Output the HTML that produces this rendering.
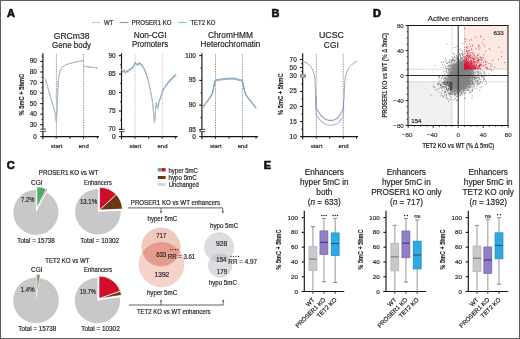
<!DOCTYPE html>
<html><head><meta charset="utf-8"><style>
html,body{margin:0;padding:0;background:#fff;width:520px;height:339px;overflow:hidden}
svg{display:block;will-change:transform;filter:blur(0.3px)}
text{font-family:"Liberation Sans", sans-serif}
</style></head><body>
<svg width="520" height="339" viewBox="0 0 520 339" font-family='"Liberation Sans", sans-serif'>
<rect x="0.5" y="0.5" width="519" height="338" fill="#fff" stroke="#5c5c5c" stroke-width="1"/>
<text x="7.00" y="16.60" font-size="11" text-anchor="start" fill="#111" font-weight="bold" stroke="#111" stroke-width="0.65">A</text>
<text x="271.60" y="17.00" font-size="11" text-anchor="start" fill="#111" font-weight="bold" stroke="#111" stroke-width="0.65">B</text>
<text x="373.10" y="16.90" font-size="11" text-anchor="start" fill="#111" font-weight="bold" stroke="#111" stroke-width="0.65">D</text>
<text x="6.80" y="168.80" font-size="11" text-anchor="start" fill="#111" font-weight="bold" stroke="#111" stroke-width="0.65">C</text>
<text x="263.80" y="168.80" font-size="11" text-anchor="start" fill="#111" font-weight="bold" stroke="#111" stroke-width="0.65">E</text>
<line x1="92.00" y1="22.50" x2="100.00" y2="22.50" stroke="#c8c8c8" stroke-width="1.2" />
<text x="104.00" y="24.90" font-size="6.7" text-anchor="start" fill="#262626" textLength="9.5" lengthAdjust="spacingAndGlyphs"  stroke="#262626" stroke-width="0.18">WT</text>
<line x1="119.60" y1="22.50" x2="128.40" y2="22.50" stroke="#9a96cc" stroke-width="1.2" />
<text x="131.70" y="24.90" font-size="6.7" text-anchor="start" fill="#262626" textLength="39.8" lengthAdjust="spacingAndGlyphs"  stroke="#262626" stroke-width="0.18">PROSER1 KO</text>
<line x1="178.30" y1="22.50" x2="186.30" y2="22.50" stroke="#7cc6d6" stroke-width="1.2" />
<text x="190.40" y="24.90" font-size="6.7" text-anchor="start" fill="#262626" textLength="24.9" lengthAdjust="spacingAndGlyphs"  stroke="#262626" stroke-width="0.18">TET2 KO</text>
<text x="71.60" y="38.50" font-size="8.3" text-anchor="middle" fill="#262626" textLength="35.7" lengthAdjust="spacingAndGlyphs"  stroke="#262626" stroke-width="0.18">GRCm38</text>
<text x="71.60" y="47.60" font-size="8.3" text-anchor="middle" fill="#262626" textLength="39.0" lengthAdjust="spacingAndGlyphs"  stroke="#262626" stroke-width="0.18">Gene body</text>
<text x="150.10" y="37.80" font-size="8.3" text-anchor="middle" fill="#262626" textLength="32.9" lengthAdjust="spacingAndGlyphs"  stroke="#262626" stroke-width="0.18">Non-CGI</text>
<text x="150.10" y="47.30" font-size="8.3" text-anchor="middle" fill="#262626" textLength="36.3" lengthAdjust="spacingAndGlyphs"  stroke="#262626" stroke-width="0.18">Promoters</text>
<text x="230.40" y="37.80" font-size="8.3" text-anchor="middle" fill="#262626" textLength="45.0" lengthAdjust="spacingAndGlyphs"  stroke="#262626" stroke-width="0.18">ChromHMM</text>
<text x="230.40" y="47.30" font-size="8.3" text-anchor="middle" fill="#262626" textLength="59.6" lengthAdjust="spacingAndGlyphs"  stroke="#262626" stroke-width="0.18">Heterochromatin</text>
<text x="331.40" y="38.30" font-size="8.3" text-anchor="middle" fill="#262626" textLength="24.9" lengthAdjust="spacingAndGlyphs"  stroke="#262626" stroke-width="0.18">UCSC</text>
<text x="331.30" y="47.60" font-size="8.3" text-anchor="middle" fill="#262626" textLength="14.9" lengthAdjust="spacingAndGlyphs"  stroke="#262626" stroke-width="0.18">CGI</text>
<text x="0" y="0" font-size="7.6" text-anchor="middle" fill="#262626" stroke="#262626" stroke-width="0.15" font-weight="bold" textLength="41.6" lengthAdjust="spacingAndGlyphs" transform="translate(24.20,94.60) rotate(-90)">% 5mC + 5hmC</text>
<text x="0" y="0" font-size="7.6" text-anchor="middle" fill="#262626" stroke="#262626" stroke-width="0.15" font-weight="bold" textLength="41.6" lengthAdjust="spacingAndGlyphs" transform="translate(283.20,94.20) rotate(-90)">% 5mC + 5hmC</text>
<line x1="42.90" y1="53.20" x2="42.90" y2="139.20" stroke="#161616" stroke-width="1.15" />
<line x1="40.30" y1="124.70" x2="42.90" y2="124.70" stroke="#161616" stroke-width="1.1" />
<line x1="40.30" y1="114.15" x2="42.90" y2="114.15" stroke="#161616" stroke-width="1.1" />
<line x1="40.30" y1="103.60" x2="42.90" y2="103.60" stroke="#161616" stroke-width="1.1" />
<line x1="40.30" y1="93.05" x2="42.90" y2="93.05" stroke="#161616" stroke-width="1.1" />
<line x1="40.30" y1="82.50" x2="42.90" y2="82.50" stroke="#161616" stroke-width="1.1" />
<line x1="40.30" y1="71.95" x2="42.90" y2="71.95" stroke="#161616" stroke-width="1.1" />
<line x1="40.30" y1="61.40" x2="42.90" y2="61.40" stroke="#161616" stroke-width="1.1" />
<line x1="40.30" y1="136.60" x2="42.90" y2="136.60" stroke="#161616" stroke-width="1.1" />
<line x1="41.40" y1="119.42" x2="42.90" y2="119.42" stroke="#161616" stroke-width="0.8" />
<line x1="41.40" y1="108.88" x2="42.90" y2="108.88" stroke="#161616" stroke-width="0.8" />
<line x1="41.40" y1="98.32" x2="42.90" y2="98.32" stroke="#161616" stroke-width="0.8" />
<line x1="41.40" y1="87.78" x2="42.90" y2="87.78" stroke="#161616" stroke-width="0.8" />
<line x1="41.40" y1="77.22" x2="42.90" y2="77.22" stroke="#161616" stroke-width="0.8" />
<line x1="41.40" y1="66.67" x2="42.90" y2="66.67" stroke="#161616" stroke-width="0.8" />
<line x1="41.40" y1="56.12" x2="42.90" y2="56.12" stroke="#161616" stroke-width="0.8" />
<text x="36.90" y="126.75" font-size="6.4" text-anchor="end" fill="#262626"  stroke="#262626" stroke-width="0.18">30</text>
<text x="36.90" y="116.20" font-size="6.4" text-anchor="end" fill="#262626"  stroke="#262626" stroke-width="0.18">40</text>
<text x="36.90" y="105.65" font-size="6.4" text-anchor="end" fill="#262626"  stroke="#262626" stroke-width="0.18">50</text>
<text x="36.90" y="95.10" font-size="6.4" text-anchor="end" fill="#262626"  stroke="#262626" stroke-width="0.18">60</text>
<text x="36.90" y="84.55" font-size="6.4" text-anchor="end" fill="#262626"  stroke="#262626" stroke-width="0.18">70</text>
<text x="36.90" y="74.00" font-size="6.4" text-anchor="end" fill="#262626"  stroke="#262626" stroke-width="0.18">80</text>
<text x="36.90" y="63.45" font-size="6.4" text-anchor="end" fill="#262626"  stroke="#262626" stroke-width="0.18">90</text>
<text x="36.90" y="138.65" font-size="6.4" text-anchor="end" fill="#262626"  stroke="#262626" stroke-width="0.18">0</text>
<rect x="41.90" y="129.40" width="2.0" height="1.8" fill="#fff"/>
<line x1="40.30" y1="129.30" x2="46.10" y2="129.00" stroke="#161616" stroke-width="0.75" />
<line x1="40.30" y1="131.50" x2="46.10" y2="131.20" stroke="#161616" stroke-width="0.75" />
<line x1="42.90" y1="136.60" x2="99.00" y2="136.60" stroke="#161616" stroke-width="1.2" />
<line x1="56.20" y1="136.60" x2="56.20" y2="138.80" stroke="#161616" stroke-width="0.9" />
<line x1="70.00" y1="136.60" x2="70.00" y2="138.80" stroke="#161616" stroke-width="0.9" />
<line x1="83.60" y1="136.60" x2="83.60" y2="138.80" stroke="#161616" stroke-width="0.9" />
<line x1="97.40" y1="136.60" x2="97.40" y2="138.80" stroke="#161616" stroke-width="0.9" />
<line x1="56.40" y1="54.00" x2="56.40" y2="137.00" stroke="#444" stroke-width="0.75" stroke-dasharray="0.75 0.95"/>
<line x1="83.60" y1="54.00" x2="83.60" y2="137.00" stroke="#444" stroke-width="0.75" stroke-dasharray="0.75 0.95"/>
<text x="56.60" y="148.00" font-size="6" text-anchor="middle" fill="#262626"  stroke="#262626" stroke-width="0.18">start</text>
<text x="83.80" y="148.00" font-size="6" text-anchor="middle" fill="#262626"  stroke="#262626" stroke-width="0.18">end</text>
<polyline points="43.20,79.20 44.30,78.20 45.50,79.50 47.00,84.50 49.00,91.50 51.00,98.50 53.00,105.50 55.00,113.00 56.30,121.80 57.00,112.00 57.50,97.00 58.20,82.00 59.00,75.00 60.50,70.00 62.50,67.00 65.00,65.30 68.00,64.00 72.00,62.90 76.00,62.00 80.00,61.20 83.40,60.60" fill="none" stroke="#6cbde8" stroke-width="0.95" stroke-linejoin="round" stroke-linecap="round" opacity="0.6"/>
<polyline points="43.20,79.20 44.30,78.20 45.50,79.50 47.00,84.50 49.00,91.50 51.00,98.50 53.00,105.50 55.00,113.00 56.30,121.80 57.00,112.00 57.50,97.00 58.20,82.00 59.00,75.00 60.50,70.00 62.50,67.00 65.00,65.30 68.00,64.00 72.00,62.90 76.00,62.00 80.00,61.20 83.40,60.60" fill="none" stroke="#9490c8" stroke-width="0.95" stroke-linejoin="round" stroke-linecap="round" opacity="0.45"/>
<polyline points="43.20,79.20 44.30,78.20 45.50,79.50 47.00,84.50 49.00,91.50 51.00,98.50 53.00,105.50 55.00,113.00 56.30,121.80 57.00,112.00 57.50,97.00 58.20,82.00 59.00,75.00 60.50,70.00 62.50,67.00 65.00,65.30 68.00,64.00 72.00,62.90 76.00,62.00 80.00,61.20 83.40,60.60" fill="none" stroke="#bcbcbc" stroke-width="0.95" stroke-linejoin="round" stroke-linecap="round" opacity="0.75"/>
<polyline points="83.90,66.20 86.00,66.60 89.00,67.00 92.00,67.30 95.00,67.70 97.50,68.20" fill="none" stroke="#6cbde8" stroke-width="0.95" stroke-linejoin="round" stroke-linecap="round" opacity="0.6"/>
<polyline points="83.90,66.20 86.00,66.60 89.00,67.00 92.00,67.30 95.00,67.70 97.50,68.20" fill="none" stroke="#9490c8" stroke-width="0.95" stroke-linejoin="round" stroke-linecap="round" opacity="0.45"/>
<polyline points="83.90,66.20 86.00,66.60 89.00,67.00 92.00,67.30 95.00,67.70 97.50,68.20" fill="none" stroke="#bcbcbc" stroke-width="0.95" stroke-linejoin="round" stroke-linecap="round" opacity="0.75"/>
<line x1="121.50" y1="53.20" x2="121.50" y2="139.20" stroke="#161616" stroke-width="1.15" />
<line x1="118.90" y1="129.40" x2="121.50" y2="129.40" stroke="#161616" stroke-width="1.1" />
<line x1="118.90" y1="110.95" x2="121.50" y2="110.95" stroke="#161616" stroke-width="1.1" />
<line x1="118.90" y1="92.50" x2="121.50" y2="92.50" stroke="#161616" stroke-width="1.1" />
<line x1="118.90" y1="74.05" x2="121.50" y2="74.05" stroke="#161616" stroke-width="1.1" />
<line x1="118.90" y1="55.60" x2="121.50" y2="55.60" stroke="#161616" stroke-width="1.1" />
<line x1="118.90" y1="136.60" x2="121.50" y2="136.60" stroke="#161616" stroke-width="1.1" />
<line x1="120.00" y1="120.18" x2="121.50" y2="120.18" stroke="#161616" stroke-width="0.8" />
<line x1="120.00" y1="101.72" x2="121.50" y2="101.72" stroke="#161616" stroke-width="0.8" />
<line x1="120.00" y1="83.28" x2="121.50" y2="83.28" stroke="#161616" stroke-width="0.8" />
<line x1="120.00" y1="64.83" x2="121.50" y2="64.83" stroke="#161616" stroke-width="0.8" />
<text x="115.50" y="131.45" font-size="6.4" text-anchor="end" fill="#262626"  stroke="#262626" stroke-width="0.18">70</text>
<text x="115.50" y="113.00" font-size="6.4" text-anchor="end" fill="#262626"  stroke="#262626" stroke-width="0.18">75</text>
<text x="115.50" y="94.55" font-size="6.4" text-anchor="end" fill="#262626"  stroke="#262626" stroke-width="0.18">80</text>
<text x="115.50" y="76.10" font-size="6.4" text-anchor="end" fill="#262626"  stroke="#262626" stroke-width="0.18">85</text>
<text x="115.50" y="57.65" font-size="6.4" text-anchor="end" fill="#262626"  stroke="#262626" stroke-width="0.18">90</text>
<text x="115.50" y="138.65" font-size="6.4" text-anchor="end" fill="#262626"  stroke="#262626" stroke-width="0.18">0</text>
<rect x="120.50" y="129.70" width="2.0" height="1.8" fill="#fff"/>
<line x1="118.90" y1="129.60" x2="124.70" y2="129.30" stroke="#161616" stroke-width="0.75" />
<line x1="118.90" y1="131.80" x2="124.70" y2="131.50" stroke="#161616" stroke-width="0.75" />
<line x1="121.50" y1="136.60" x2="177.50" y2="136.60" stroke="#161616" stroke-width="1.2" />
<line x1="135.00" y1="136.60" x2="135.00" y2="138.80" stroke="#161616" stroke-width="0.9" />
<line x1="148.70" y1="136.60" x2="148.70" y2="138.80" stroke="#161616" stroke-width="0.9" />
<line x1="162.20" y1="136.60" x2="162.20" y2="138.80" stroke="#161616" stroke-width="0.9" />
<line x1="175.60" y1="136.60" x2="175.60" y2="138.80" stroke="#161616" stroke-width="0.9" />
<line x1="135.00" y1="54.00" x2="135.00" y2="137.00" stroke="#b88a9c" stroke-width="0.75" stroke-dasharray="0.75 0.95"/>
<line x1="162.30" y1="54.00" x2="162.30" y2="137.00" stroke="#b88a9c" stroke-width="0.75" stroke-dasharray="0.75 0.95"/>
<text x="135.30" y="148.00" font-size="6" text-anchor="middle" fill="#262626"  stroke="#262626" stroke-width="0.18">start</text>
<text x="162.50" y="148.00" font-size="6" text-anchor="middle" fill="#262626"  stroke="#262626" stroke-width="0.18">end</text>
<polyline points="121.70,69.70 123.00,71.50 124.30,70.00 125.50,72.50 126.80,70.50 128.00,71.50 129.30,69.00 130.50,69.50 131.80,67.50 133.00,67.00 134.20,64.50 135.00,62.60 136.50,63.80 137.70,64.50 139.00,62.90 140.20,63.60 141.40,64.50 142.60,66.00 143.80,68.00 145.00,70.50 146.20,73.80 147.40,77.50 148.60,81.50 149.60,86.00 150.60,91.00 151.60,96.50 152.50,102.00 153.20,108.00 153.80,115.00 154.40,122.50 155.00,118.00 155.60,108.00 156.30,102.50 157.00,106.00 157.60,108.50 158.50,104.00 159.50,100.00 160.50,97.50 161.50,94.50 162.50,91.00 163.50,89.00 164.50,87.50 165.50,86.00 166.50,84.50 167.50,83.50 168.50,81.50 169.50,81.00 170.50,79.50 171.50,79.00 172.50,77.50 173.50,76.50 174.50,76.00 175.60,74.80" fill="none" stroke="#6cbde8" stroke-width="1.0" stroke-linejoin="round" stroke-linecap="round" opacity="0.6"/>
<polyline points="121.70,70.50 123.00,72.30 124.30,70.80 125.50,73.30 126.80,71.30 128.00,72.30 129.30,69.80 130.50,70.30 131.80,68.30 133.00,67.80 134.20,65.30 135.00,63.40 136.50,64.60 137.70,65.30 139.00,63.70 140.20,64.40 141.40,65.30 142.60,66.80 143.80,68.80 145.00,71.30 146.20,74.60 147.40,78.30 148.60,82.30 149.60,86.80 150.60,91.80 151.60,97.30 152.50,102.80 153.20,108.80 153.80,115.80 154.40,123.30 155.00,118.80 155.60,108.80 156.30,103.30 157.00,106.80 157.60,109.30 158.50,104.80 159.50,100.80 160.50,98.30 161.50,95.30 162.50,91.80 163.50,89.80 164.50,88.30 165.50,86.80 166.50,85.30 167.50,84.30 168.50,82.30 169.50,81.80 170.50,80.30 171.50,79.80 172.50,78.30 173.50,77.30 174.50,76.80 175.60,75.60" fill="none" stroke="#9490c8" stroke-width="1.0" stroke-linejoin="round" stroke-linecap="round" opacity="0.45"/>
<polyline points="121.70,69.70 123.00,71.50 124.30,70.00 125.50,72.50 126.80,70.50 128.00,71.50 129.30,69.00 130.50,69.50 131.80,67.50 133.00,67.00 134.20,64.50 135.00,62.60 136.50,63.80 137.70,64.50 139.00,62.90 140.20,63.60 141.40,64.50 142.60,66.00 143.80,68.00 145.00,70.50 146.20,73.80 147.40,77.50 148.60,81.50 149.60,86.00 150.60,91.00 151.60,96.50 152.50,102.00 153.20,108.00 153.80,115.00 154.40,122.50 155.00,118.00 155.60,108.00 156.30,102.50 157.00,106.00 157.60,108.50 158.50,104.00 159.50,100.00 160.50,97.50 161.50,94.50 162.50,91.00 163.50,89.00 164.50,87.50 165.50,86.00 166.50,84.50 167.50,83.50 168.50,81.50 169.50,81.00 170.50,79.50 171.50,79.00 172.50,77.50 173.50,76.50 174.50,76.00 175.60,74.80" fill="none" stroke="#bcbcbc" stroke-width="1.0" stroke-linejoin="round" stroke-linecap="round" opacity="0.75"/>
<circle cx="121.70" cy="69.70" r="0.8" fill="#5b9fc2" opacity="0.55"/>
<circle cx="122.00" cy="70.70" r="0.6" fill="#8e88b8" opacity="0.45"/>
<circle cx="123.00" cy="71.50" r="0.8" fill="#5b9fc2" opacity="0.55"/>
<circle cx="123.30" cy="72.50" r="0.6" fill="#8e88b8" opacity="0.45"/>
<circle cx="124.30" cy="70.00" r="0.8" fill="#5b9fc2" opacity="0.55"/>
<circle cx="124.60" cy="71.00" r="0.6" fill="#8e88b8" opacity="0.45"/>
<circle cx="125.50" cy="72.50" r="0.8" fill="#5b9fc2" opacity="0.55"/>
<circle cx="125.80" cy="73.50" r="0.6" fill="#8e88b8" opacity="0.45"/>
<circle cx="126.80" cy="70.50" r="0.8" fill="#5b9fc2" opacity="0.55"/>
<circle cx="127.10" cy="71.50" r="0.6" fill="#8e88b8" opacity="0.45"/>
<circle cx="128.00" cy="71.50" r="0.8" fill="#5b9fc2" opacity="0.55"/>
<circle cx="128.30" cy="72.50" r="0.6" fill="#8e88b8" opacity="0.45"/>
<circle cx="129.30" cy="69.00" r="0.8" fill="#5b9fc2" opacity="0.55"/>
<circle cx="129.60" cy="70.00" r="0.6" fill="#8e88b8" opacity="0.45"/>
<circle cx="130.50" cy="69.50" r="0.8" fill="#5b9fc2" opacity="0.55"/>
<circle cx="130.80" cy="70.50" r="0.6" fill="#8e88b8" opacity="0.45"/>
<circle cx="131.80" cy="67.50" r="0.8" fill="#5b9fc2" opacity="0.55"/>
<circle cx="132.10" cy="68.50" r="0.6" fill="#8e88b8" opacity="0.45"/>
<circle cx="133.00" cy="67.00" r="0.8" fill="#5b9fc2" opacity="0.55"/>
<circle cx="133.30" cy="68.00" r="0.6" fill="#8e88b8" opacity="0.45"/>
<circle cx="134.20" cy="64.50" r="0.8" fill="#5b9fc2" opacity="0.55"/>
<circle cx="134.50" cy="65.50" r="0.6" fill="#8e88b8" opacity="0.45"/>
<circle cx="135.00" cy="62.60" r="0.8" fill="#5b9fc2" opacity="0.55"/>
<circle cx="135.30" cy="63.60" r="0.6" fill="#8e88b8" opacity="0.45"/>
<circle cx="136.50" cy="63.80" r="0.8" fill="#5b9fc2" opacity="0.55"/>
<circle cx="136.80" cy="64.80" r="0.6" fill="#8e88b8" opacity="0.45"/>
<circle cx="137.70" cy="64.50" r="0.8" fill="#5b9fc2" opacity="0.55"/>
<circle cx="138.00" cy="65.50" r="0.6" fill="#8e88b8" opacity="0.45"/>
<circle cx="139.00" cy="62.90" r="0.8" fill="#5b9fc2" opacity="0.55"/>
<circle cx="139.30" cy="63.90" r="0.6" fill="#8e88b8" opacity="0.45"/>
<circle cx="140.20" cy="63.60" r="0.8" fill="#5b9fc2" opacity="0.55"/>
<circle cx="140.50" cy="64.60" r="0.6" fill="#8e88b8" opacity="0.45"/>
<circle cx="141.40" cy="64.50" r="0.8" fill="#5b9fc2" opacity="0.55"/>
<circle cx="141.70" cy="65.50" r="0.6" fill="#8e88b8" opacity="0.45"/>
<circle cx="142.60" cy="66.00" r="0.8" fill="#5b9fc2" opacity="0.55"/>
<circle cx="142.90" cy="67.00" r="0.6" fill="#8e88b8" opacity="0.45"/>
<circle cx="143.80" cy="68.00" r="0.8" fill="#5b9fc2" opacity="0.55"/>
<circle cx="144.10" cy="69.00" r="0.6" fill="#8e88b8" opacity="0.45"/>
<circle cx="145.00" cy="70.50" r="0.8" fill="#5b9fc2" opacity="0.55"/>
<circle cx="145.30" cy="71.50" r="0.6" fill="#8e88b8" opacity="0.45"/>
<circle cx="146.20" cy="73.80" r="0.8" fill="#5b9fc2" opacity="0.55"/>
<circle cx="146.50" cy="74.80" r="0.6" fill="#8e88b8" opacity="0.45"/>
<circle cx="147.40" cy="77.50" r="0.8" fill="#5b9fc2" opacity="0.55"/>
<circle cx="147.70" cy="78.50" r="0.6" fill="#8e88b8" opacity="0.45"/>
<circle cx="158.50" cy="104.00" r="0.8" fill="#5b9fc2" opacity="0.55"/>
<circle cx="158.80" cy="105.00" r="0.6" fill="#8e88b8" opacity="0.45"/>
<circle cx="159.50" cy="100.00" r="0.8" fill="#5b9fc2" opacity="0.55"/>
<circle cx="159.80" cy="101.00" r="0.6" fill="#8e88b8" opacity="0.45"/>
<circle cx="160.50" cy="97.50" r="0.8" fill="#5b9fc2" opacity="0.55"/>
<circle cx="160.80" cy="98.50" r="0.6" fill="#8e88b8" opacity="0.45"/>
<circle cx="161.50" cy="94.50" r="0.8" fill="#5b9fc2" opacity="0.55"/>
<circle cx="161.80" cy="95.50" r="0.6" fill="#8e88b8" opacity="0.45"/>
<circle cx="162.50" cy="91.00" r="0.8" fill="#5b9fc2" opacity="0.55"/>
<circle cx="162.80" cy="92.00" r="0.6" fill="#8e88b8" opacity="0.45"/>
<circle cx="163.50" cy="89.00" r="0.8" fill="#5b9fc2" opacity="0.55"/>
<circle cx="163.80" cy="90.00" r="0.6" fill="#8e88b8" opacity="0.45"/>
<circle cx="164.50" cy="87.50" r="0.8" fill="#5b9fc2" opacity="0.55"/>
<circle cx="164.80" cy="88.50" r="0.6" fill="#8e88b8" opacity="0.45"/>
<circle cx="165.50" cy="86.00" r="0.8" fill="#5b9fc2" opacity="0.55"/>
<circle cx="165.80" cy="87.00" r="0.6" fill="#8e88b8" opacity="0.45"/>
<circle cx="166.50" cy="84.50" r="0.8" fill="#5b9fc2" opacity="0.55"/>
<circle cx="166.80" cy="85.50" r="0.6" fill="#8e88b8" opacity="0.45"/>
<circle cx="167.50" cy="83.50" r="0.8" fill="#5b9fc2" opacity="0.55"/>
<circle cx="167.80" cy="84.50" r="0.6" fill="#8e88b8" opacity="0.45"/>
<circle cx="168.50" cy="81.50" r="0.8" fill="#5b9fc2" opacity="0.55"/>
<circle cx="168.80" cy="82.50" r="0.6" fill="#8e88b8" opacity="0.45"/>
<circle cx="169.50" cy="81.00" r="0.8" fill="#5b9fc2" opacity="0.55"/>
<circle cx="169.80" cy="82.00" r="0.6" fill="#8e88b8" opacity="0.45"/>
<circle cx="170.50" cy="79.50" r="0.8" fill="#5b9fc2" opacity="0.55"/>
<circle cx="170.80" cy="80.50" r="0.6" fill="#8e88b8" opacity="0.45"/>
<circle cx="171.50" cy="79.00" r="0.8" fill="#5b9fc2" opacity="0.55"/>
<circle cx="171.80" cy="80.00" r="0.6" fill="#8e88b8" opacity="0.45"/>
<circle cx="172.50" cy="77.50" r="0.8" fill="#5b9fc2" opacity="0.55"/>
<circle cx="172.80" cy="78.50" r="0.6" fill="#8e88b8" opacity="0.45"/>
<circle cx="173.50" cy="76.50" r="0.8" fill="#5b9fc2" opacity="0.55"/>
<circle cx="173.80" cy="77.50" r="0.6" fill="#8e88b8" opacity="0.45"/>
<circle cx="174.50" cy="76.00" r="0.8" fill="#5b9fc2" opacity="0.55"/>
<circle cx="174.80" cy="77.00" r="0.6" fill="#8e88b8" opacity="0.45"/>
<circle cx="175.60" cy="74.80" r="0.8" fill="#5b9fc2" opacity="0.55"/>
<circle cx="175.90" cy="75.80" r="0.6" fill="#8e88b8" opacity="0.45"/>
<line x1="201.90" y1="53.20" x2="201.90" y2="139.20" stroke="#161616" stroke-width="1.15" />
<line x1="199.30" y1="130.00" x2="201.90" y2="130.00" stroke="#161616" stroke-width="1.1" />
<line x1="199.30" y1="105.20" x2="201.90" y2="105.20" stroke="#161616" stroke-width="1.1" />
<line x1="199.30" y1="80.40" x2="201.90" y2="80.40" stroke="#161616" stroke-width="1.1" />
<line x1="199.30" y1="55.60" x2="201.90" y2="55.60" stroke="#161616" stroke-width="1.1" />
<line x1="199.30" y1="136.60" x2="201.90" y2="136.60" stroke="#161616" stroke-width="1.1" />
<line x1="200.40" y1="117.60" x2="201.90" y2="117.60" stroke="#161616" stroke-width="0.8" />
<line x1="200.40" y1="92.80" x2="201.90" y2="92.80" stroke="#161616" stroke-width="0.8" />
<line x1="200.40" y1="68.00" x2="201.90" y2="68.00" stroke="#161616" stroke-width="0.8" />
<text x="195.90" y="132.05" font-size="6.4" text-anchor="end" fill="#262626"  stroke="#262626" stroke-width="0.18">85</text>
<text x="195.90" y="107.25" font-size="6.4" text-anchor="end" fill="#262626"  stroke="#262626" stroke-width="0.18">90</text>
<text x="195.90" y="82.45" font-size="6.4" text-anchor="end" fill="#262626"  stroke="#262626" stroke-width="0.18">95</text>
<text x="195.90" y="57.65" font-size="6.4" text-anchor="end" fill="#262626"  stroke="#262626" stroke-width="0.18">100</text>
<text x="195.90" y="138.65" font-size="6.4" text-anchor="end" fill="#262626"  stroke="#262626" stroke-width="0.18">0</text>
<rect x="200.90" y="129.70" width="2.0" height="1.8" fill="#fff"/>
<line x1="199.30" y1="129.60" x2="205.10" y2="129.30" stroke="#161616" stroke-width="0.75" />
<line x1="199.30" y1="131.80" x2="205.10" y2="131.50" stroke="#161616" stroke-width="0.75" />
<line x1="201.90" y1="136.60" x2="258.00" y2="136.60" stroke="#161616" stroke-width="1.2" />
<line x1="215.50" y1="136.60" x2="215.50" y2="138.80" stroke="#161616" stroke-width="0.9" />
<line x1="229.00" y1="136.60" x2="229.00" y2="138.80" stroke="#161616" stroke-width="0.9" />
<line x1="242.40" y1="136.60" x2="242.40" y2="138.80" stroke="#161616" stroke-width="0.9" />
<line x1="256.00" y1="136.60" x2="256.00" y2="138.80" stroke="#161616" stroke-width="0.9" />
<line x1="215.50" y1="54.00" x2="215.50" y2="137.00" stroke="#444" stroke-width="0.75" stroke-dasharray="0.75 0.95"/>
<line x1="242.40" y1="54.00" x2="242.40" y2="137.00" stroke="#444" stroke-width="0.75" stroke-dasharray="0.75 0.95"/>
<text x="215.80" y="148.00" font-size="6" text-anchor="middle" fill="#262626"  stroke="#262626" stroke-width="0.18">start</text>
<text x="242.70" y="148.00" font-size="6" text-anchor="middle" fill="#262626"  stroke="#262626" stroke-width="0.18">end</text>
<polyline points="202.50,107.30 204.00,105.30 206.00,102.50 208.00,100.00 210.00,97.30 211.50,94.80 212.70,91.50 213.60,87.50 214.40,83.00 215.30,80.20 217.00,79.70 220.00,79.20 224.00,78.70 228.00,78.30 232.00,78.20 235.00,78.40 238.00,79.30 240.50,79.80 242.20,80.30 243.00,83.00 243.80,87.00 244.60,91.00 246.00,94.50 248.00,97.50 250.00,100.00 252.00,102.50 254.00,105.30 255.80,107.30" fill="none" stroke="#b8b8b8" stroke-width="1.1" stroke-linejoin="round" stroke-linecap="round" opacity="0.8"/>
<polyline points="202.50,108.30 204.00,106.30 206.00,103.50 208.00,101.00 210.00,98.30 211.50,95.80 212.70,92.50 213.60,88.50 214.40,84.00 215.30,81.20 217.00,80.70 220.00,80.20 224.00,79.70 228.00,79.30 232.00,79.20 235.00,79.40 238.00,80.30 240.50,80.80 242.20,81.30 243.00,84.00 243.80,88.00 244.60,92.00 246.00,95.50 248.00,98.50 250.00,101.00 252.00,103.50 254.00,106.30 255.80,108.30" fill="none" stroke="#7c7aae" stroke-width="1.0" stroke-linejoin="round" stroke-linecap="round" opacity="0.6"/>
<polyline points="202.50,107.30 204.00,105.30 206.00,102.50 208.00,100.00 210.00,97.30 211.50,94.80 212.70,91.50 213.60,87.50 214.40,83.00 215.30,80.20 217.00,79.70 220.00,79.20 224.00,78.70 228.00,78.30 232.00,78.20 235.00,78.40 238.00,79.30 240.50,79.80 242.20,80.30 243.00,83.00 243.80,87.00 244.60,91.00 246.00,94.50 248.00,97.50 250.00,100.00 252.00,102.50 254.00,105.30 255.80,107.30" fill="none" stroke="#5aa6d2" stroke-width="1.0" stroke-linejoin="round" stroke-linecap="round" opacity="0.75"/>
<line x1="302.70" y1="53.20" x2="302.70" y2="139.20" stroke="#161616" stroke-width="1.15" />
<line x1="300.10" y1="136.60" x2="302.70" y2="136.60" stroke="#161616" stroke-width="1.1" />
<line x1="300.10" y1="121.53" x2="302.70" y2="121.53" stroke="#161616" stroke-width="1.1" />
<line x1="300.10" y1="106.47" x2="302.70" y2="106.47" stroke="#161616" stroke-width="1.1" />
<line x1="300.10" y1="91.41" x2="302.70" y2="91.41" stroke="#161616" stroke-width="1.1" />
<line x1="300.10" y1="75.60" x2="302.70" y2="75.60" stroke="#161616" stroke-width="1.1" />
<line x1="300.10" y1="67.60" x2="302.70" y2="67.60" stroke="#161616" stroke-width="1.1" />
<line x1="300.10" y1="59.60" x2="302.70" y2="59.60" stroke="#161616" stroke-width="1.1" />
<line x1="301.20" y1="129.07" x2="302.70" y2="129.07" stroke="#161616" stroke-width="0.8" />
<line x1="301.20" y1="114.00" x2="302.70" y2="114.00" stroke="#161616" stroke-width="0.8" />
<line x1="301.20" y1="98.94" x2="302.70" y2="98.94" stroke="#161616" stroke-width="0.8" />
<line x1="301.20" y1="83.87" x2="302.70" y2="83.87" stroke="#161616" stroke-width="0.8" />
<line x1="301.20" y1="71.60" x2="302.70" y2="71.60" stroke="#161616" stroke-width="0.8" />
<line x1="301.20" y1="63.60" x2="302.70" y2="63.60" stroke="#161616" stroke-width="0.8" />
<text x="296.70" y="138.65" font-size="6.4" text-anchor="end" fill="#262626"  stroke="#262626" stroke-width="0.18">10</text>
<text x="296.70" y="123.58" font-size="6.4" text-anchor="end" fill="#262626"  stroke="#262626" stroke-width="0.18">15</text>
<text x="296.70" y="108.52" font-size="6.4" text-anchor="end" fill="#262626"  stroke="#262626" stroke-width="0.18">20</text>
<text x="296.70" y="93.45" font-size="6.4" text-anchor="end" fill="#262626"  stroke="#262626" stroke-width="0.18">25</text>
<text x="296.70" y="77.65" font-size="6.4" text-anchor="end" fill="#262626"  stroke="#262626" stroke-width="0.18">30</text>
<text x="296.70" y="69.65" font-size="6.4" text-anchor="end" fill="#262626"  stroke="#262626" stroke-width="0.18">50</text>
<text x="296.70" y="61.65" font-size="6.4" text-anchor="end" fill="#262626"  stroke="#262626" stroke-width="0.18">70</text>
<rect x="300.1" y="74.1" width="5.8" height="3.6" fill="#8e8e8e"/>
<rect x="302.1" y="75.1" width="1.3" height="1.5" fill="#e8e8e8"/>
<line x1="302.70" y1="136.60" x2="358.00" y2="136.60" stroke="#161616" stroke-width="1.2" />
<line x1="316.30" y1="136.60" x2="316.30" y2="138.80" stroke="#161616" stroke-width="0.9" />
<line x1="329.70" y1="136.60" x2="329.70" y2="138.80" stroke="#161616" stroke-width="0.9" />
<line x1="343.30" y1="136.60" x2="343.30" y2="138.80" stroke="#161616" stroke-width="0.9" />
<line x1="356.50" y1="136.60" x2="356.50" y2="138.80" stroke="#161616" stroke-width="0.9" />
<line x1="316.30" y1="54.00" x2="316.30" y2="137.00" stroke="#444" stroke-width="0.75" stroke-dasharray="0.75 0.95"/>
<line x1="343.30" y1="54.00" x2="343.30" y2="137.00" stroke="#444" stroke-width="0.75" stroke-dasharray="0.75 0.95"/>
<text x="316.50" y="148.00" font-size="6" text-anchor="middle" fill="#262626"  stroke="#262626" stroke-width="0.18">start</text>
<text x="343.50" y="148.00" font-size="6" text-anchor="middle" fill="#262626"  stroke="#262626" stroke-width="0.18">end</text>
<polyline points="303.00,61.60 305.00,62.20 307.50,63.50 310.00,65.50 312.00,68.50 313.50,72.00 314.50,76.00 314.90,80.00 315.20,86.00 315.60,95.00 316.00,104.00" fill="none" stroke="#a0a6c8" stroke-width="1.0" stroke-linejoin="round" stroke-linecap="round" />
<polyline points="344.00,100.00 344.40,90.00 344.80,82.00 345.40,77.00 346.50,73.00 348.00,69.50 350.00,66.50 352.50,64.00 355.00,62.20 357.00,61.20" fill="none" stroke="#a0a6c8" stroke-width="1.0" stroke-linejoin="round" stroke-linecap="round" />
<polyline points="316.00,102.00 316.10,114.40 317.01,115.86 317.92,117.20 318.83,118.42 319.74,119.53 320.65,120.53 321.56,121.42 322.47,122.21 323.38,122.89 324.29,123.48 325.20,123.97 326.11,124.37 327.02,124.68 327.93,124.91 328.84,125.07 329.75,125.16 330.66,125.20 331.57,125.19 332.48,125.13 333.39,125.00 334.30,124.77 335.21,124.45 336.12,124.02 337.03,123.49 337.94,122.83 338.85,122.06 339.76,121.15 340.67,120.12 341.58,118.95 342.49,117.65 343.40,116.20 343.70,106.00" fill="none" stroke="#aab4da" stroke-width="1.1" stroke-linejoin="round" stroke-linecap="round" />
<polyline points="315.90,96.00 316.10,107.80 317.01,109.50 317.92,111.06 318.83,112.49 319.74,113.78 320.65,114.95 321.56,115.99 322.47,116.91 323.38,117.71 324.29,118.39 325.20,118.96 326.11,119.43 327.02,119.79 327.93,120.07 328.84,120.25 329.75,120.36 330.66,120.40 331.57,120.39 332.48,120.31 333.39,120.13 334.30,119.84 335.21,119.42 336.12,118.86 337.03,118.15 337.94,117.29 338.85,116.28 339.76,115.09 340.67,113.74 341.58,112.21 342.49,110.50 343.40,108.60 343.70,100.00" fill="none" stroke="#8e90b8" stroke-width="1.1" stroke-linejoin="round" stroke-linecap="round" />
<!-- D -->
<rect x="464.45" y="25.5" width="43.55" height="43.75" fill="#fce9e3"/>
<rect x="408" y="81.75" width="43.95" height="43.75" fill="#f0f0f0"/>
<line x1="451.95" y1="25.50" x2="451.95" y2="125.50" stroke="#8a8a8a" stroke-width="0.7" stroke-dasharray="0.7 1"/>
<line x1="408.00" y1="81.75" x2="508.00" y2="81.75" stroke="#8a8a8a" stroke-width="0.7" stroke-dasharray="0.7 1"/>
<line x1="464.45" y1="25.50" x2="464.45" y2="125.50" stroke="#8a8a8a" stroke-width="0.7" stroke-dasharray="0.7 1"/>
<line x1="408.00" y1="69.25" x2="508.00" y2="69.25" stroke="#8a8a8a" stroke-width="0.7" stroke-dasharray="0.7 1"/>
<path transform="scale(0.1)" d="M4546 761h1M4646 788h1M4541 789h1M4622 696h1M4546 863h1M4633 731h1M4596 787h1M4716 754h1M4565 848h1M4605 759h1M4585 777h1M4613 723h1M4650 742h1M4520 748h1M4537 797h1M4534 787h1M4566 765h1M4749 730h1M4639 839h1M4588 732h1M4597 747h1M4605 829h1M4626 811h1M4685 776h1M4632 760h1M4644 794h1M4646 764h1M4658 715h1M4607 815h1M4675 771h1M4626 731h1M4613 752h1M4609 803h1M4555 806h1M4627 669h1M4636 716h1M4609 719h1M4681 767h1M4570 657h1M4612 706h1M4640 827h1M4606 821h1M4651 711h1M4603 685h1M4567 730h1M4651 773h1M4520 847h1M4611 733h1M4670 811h1M4601 729h1M4594 916h1M4637 617h1M4646 812h1M4582 760h1M4713 700h1M4606 672h1M4597 656h1M4570 806h1M4633 673h1M4630 742h1M4573 809h1M4627 782h1M4636 754h1M4586 766h1M4620 711h1M4579 789h1M4539 688h1M4666 762h1M4579 850h1M4608 754h1M4699 726h1M4566 928h1M4664 740h1M4528 778h1M4528 576h1M4651 720h1M4593 902h1M4595 866h1M4628 892h1M4560 705h1M4675 821h1M4532 734h1M4639 819h1M4570 820h1M4547 825h1M4657 711h1M4693 748h1M4595 831h1M4595 851h1M4666 700h1M4661 737h1M4568 772h1M4584 841h1M4525 881h1M4601 760h1M4579 687h1M4609 731h1M4656 804h1M4512 747h1M4570 697h1M4616 703h1M4635 887h1M4633 801h1M4567 805h1M4635 705h1M4646 858h1M4574 922h1M4596 733h1M4564 830h1M4566 671h1M4650 763h1M4611 759h1M4610 779h1M4586 850h1M4572 676h1M4625 758h1M4591 768h1M4617 804h1M4610 752h1M4567 826h1M4556 846h1M4641 902h1M4589 810h1M4573 771h1M4652 750h1M4594 808h1M4595 715h1M4583 844h1M4544 852h1M4538 719h1M4617 779h1M4666 791h1M4635 710h1M4531 883h1M4559 725h1M4659 828h1M4648 779h1M4583 807h1M4586 884h1M4556 857h1M4623 635h1M4724 755h1M4523 815h1M4558 659h1M4626 806h1M4643 724h1M4528 822h1M4607 788h1M4609 802h1M4560 687h1M4617 737h1M4529 799h1M4619 772h1M4611 692h1M4583 678h1M4566 836h1M4633 825h1M4584 718h1M4655 862h1M4624 647h1M4655 769h1M4574 794h1M4549 799h1M4592 780h1M4535 723h1M4552 810h1M4595 791h1M4556 797h1M4699 779h1M4595 702h1M4640 878h1M4562 772h1M4623 683h1M4622 777h1M4603 781h1M4612 724h1M4585 823h1M4562 712h1M4639 707h1M4568 733h1M4575 783h1M4619 681h1M4621 798h1M4596 882h1M4633 790h1M4560 653h1M4633 545h1M4619 785h1M4600 741h1M4624 818h1M4607 798h1M4545 731h1M4631 756h1M4560 903h1M4623 769h1M4525 793h1M4532 789h1M4607 745h1M4549 806h1M4674 906h1M4526 765h1M4577 714h1M4553 788h1M4595 776h1M4574 889h1M4621 702h1M4598 832h1M4593 772h1M4664 820h1M4569 823h1M4558 823h1M4682 758h1M4596 636h1M4598 876h1M4619 821h1M4674 825h1M4575 874h1M4598 793h1M4573 719h1M4643 753h1M4560 846h1M4613 619h1M4580 823h1M4569 845h1M4665 751h1M4578 874h1M4610 768h1M4599 707h1M4629 748h1M4586 753h1M4600 636h1M4658 769h1M4665 754h1M4539 845h1M4700 702h1M4628 703h1M4626 699h1M4589 786h1M4645 778h1M4541 799h1M4576 738h1M4601 751h1M4643 672h1M4527 706h1M4601 788h1M4709 749h1M4554 752h1M4634 767h1M4592 839h1M4683 761h1M4583 792h1M4605 748h1M4578 781h1M4538 754h1M4560 812h1M4610 840h1M4712 740h1M4597 815h1M4614 849h1M4578 737h1M4547 831h1M4601 808h1M4602 598h1M4681 810h1M4616 759h1M4595 707h1M4586 793h1M4584 780h1M4659 705h1M4540 813h1M4611 711h1M4598 886h1M4621 749h1M4624 842h1M4604 810h1M4570 756h1M4617 819h1M4524 942h1M4575 707h1M4598 907h1M4562 754h1M4553 810h1M4586 820h1M4616 677h1M4634 734h1M4590 865h1M4555 705h1M4586 750h1M4694 814h1M4642 791h1M4613 815h1M4582 718h1M4688 796h1M4601 711h1M4565 742h1M4620 689h1M4617 837h1M4631 828h1M4635 667h1M4628 795h1M4654 744h1M4545 806h1M4665 770h1M4525 821h1M4581 811h1M4615 662h1M4525 804h1M4569 743h1M4545 781h1M4631 841h1M4650 843h1M4648 867h1M4663 774h1M4531 803h1M4616 825h1M4593 959h1M4581 748h1M4570 621h1M4637 740h1M4650 697h1M4605 805h1M4647 730h1M4622 756h1M4574 801h1M4615 719h1M4636 668h1M4579 703h1M4622 827h1M4595 643h1M4569 773h1M4705 694h1M4547 796h1M4580 590h1M4583 812h1M4545 705h1M4587 854h1M4586 730h1M4638 813h1M4595 695h1M4684 745h1M4648 849h1M4632 736h1M4597 797h1M4551 774h1M4658 775h1M4612 827h1M4615 802h1M4586 724h1M4531 768h1M4557 709h1M4636 721h1M4487 762h1M4644 752h1M4740 718h1M4589 719h1M4549 726h1M4596 824h1M4655 780h1M4610 790h1M4613 744h1M4570 864h1M4620 707h1M4614 739h1M4586 760h1M4610 879h1M4570 741h1M4594 765h1M4568 849h1M4641 751h1M4565 704h1M4522 797h1M4629 836h1M4647 800h1M4569 720h1M4655 760h1M4582 887h1M4636 620h1M4580 804h1M4539 830h1M4551 659h1M4568 725h1M4568 796h1M4719 839h1M4626 837h1M4578 648h1M4604 688h1M4707 751h1M4580 819h1M4566 867h1M4556 726h1M4617 699h1M4628 714h1M4576 792h1M4566 784h1M4564 802h1M4589 802h1M4555 770h1M4552 848h1M4605 870h1M4456 791h1M4560 745h1M4512 739h1M4594 752h1M4586 903h1M4594 853h1M4601 821h1M4586 786h1M4556 782h1M4666 720h1M4568 785h1M4585 715h1M4602 745h1M4700 826h1M4555 887h1M4614 665h1M4602 769h1M4602 717h1M4567 744h1M4695 717h1M4714 805h1M4572 644h1M4624 787h1M4708 877h1M4634 642h1M4595 802h1M4565 915h1M4607 715h1M4560 873h1M4555 717h1M4661 792h1M4590 685h1M4549 756h1M4600 658h1M4602 814h1M4590 696h1M4638 638h1M4612 767h1M4528 765h1M4523 697h1M4514 797h1M4579 843h1M4627 773h1M4575 804h1M4529 750h1M4619 869h1M4605 697h1M4611 686h1M4542 840h1M4556 755h1M4594 661h1M4550 815h1M4609 810h1M4624 720h1M4638 744h1M4561 831h1M4595 689h1M4638 679h1M4639 852h1M4644 733h1M4580 742h1M4614 768h1M4525 783h1M4626 765h1M4529 761h1M4633 749h1M4607 866h1M4605 721h1M4569 792h1M4499 763h1M4574 734h1M4662 762h1M4645 741h1M4592 788h1M4562 701h1M4639 803h1M4533 714h1M4543 712h1M4624 692h1M4616 729h1M4612 699h1M4583 711h1M4669 754h1M4621 795h1M4588 756h1M4599 757h1M4521 704h1M4593 818h1M4584 746h1M4640 780h1M4608 864h1M4608 773h1M4566 685h1M4575 748h1M4626 753h1M4591 817h1M4591 861h1M4619 731h1M4590 717h1M4526 834h1M4638 766h1M4552 903h1M4545 916h1M4623 796h1M4642 735h1M4576 712h1M4559 740h1M4634 681h1M4635 693h1M4598 782h1M4650 731h1M4557 816h1M4646 806h1M4596 679h1M4562 718h1M4673 786h1M4557 842h1M4587 659h1M4587 813h1M4657 753h1M4541 811h1M4522 834h1M4641 768h1M4547 679h1M4573 687h1M4578 863h1M4683 772h1M4635 687h1M4600 845h1M4588 738h1M4577 778h1M4616 755h1M4657 696h1M4638 715h1M4608 836h1M4599 696h1M4592 824h1M4563 690h1M4647 852h1M4558 807h1M4640 854h1M4632 718h1M4583 833h1M4724 809h1M4669 721h1M4584 677h1M4596 758h1M4628 872h1M4591 712h1M4544 855h1M4610 740h1M4632 779h1M4578 773h1M4608 697h1M4626 743h1M4447 790h1M4628 644h1M4554 775h1M4654 727h1M4583 631h1M4696 890h1M4607 769h1M4520 810h1M4620 860h1M4535 722h1M4637 851h1M4621 765h1M4644 776h1M4555 875h1M4558 715h1M4589 807h1M4620 742h1M4573 724h1M4654 750h1M4627 640h1M4568 685h1M4496 731h1M4591 680h1M4638 776h1M4531 874h1M4542 787h1M4577 830h1M4576 746h1M4553 829h1M4589 773h1M4550 828h1M4462 770h1M4589 956h1M4527 718h1M4636 834h1M4679 791h1M4617 765h1M4649 826h1M4605 658h1M4648 839h1M4657 840h1M4622 737h1M4534 711h1M4653 824h1M4623 677h1M4580 729h1M4545 841h1M4658 783h1M4639 689h1M4527 738h1M4494 804h1M4581 653h1M4579 835h1M4598 852h1M4497 742h1M4580 757h1M4628 790h1M4565 752h1M4638 866h1M4553 823h1M4550 713h1M4689 834h1M4722 766h1M4646 759h1M4553 985h1M4628 580h1M4548 854h1M4599 657h1M4591 877h1M4638 711h1M4689 732h1M4691 788h1M4547 801h1M4584 704h1M4642 701h1M4588 762h1M4613 788h1M4616 793h1M4549 736h1M4677 867h1M4631 697h1M4622 758h1M4564 628h1M4546 877h1M4547 889h1M4503 797h1M4569 730h1M4682 710h1M4652 726h1M4557 799h1M4604 740h1M4601 840h1M4554 833h1M4580 709h1M4526 800h1M4600 720h1M4630 809h1M4586 683h1M4620 811h1M4567 675h1M4672 713h1M4661 727h1M4595 780h1M4670 791h1M4597 833h1M4546 943h1M4616 777h1M4610 831h1M4555 760h1M4630 724h1M4618 744h1M4560 639h1M4553 907h1M4532 784h1M4541 716h1M4631 690h1M4613 711h1M4622 714h1M4555 822h1M4556 730h1M4596 671h1M4570 799h1M4678 702h1M4544 750h1M4570 666h1M4669 729h1M4674 780h1M4608 793h1M4606 848h1M4683 828h1M4669 779h1M4578 658h1M4567 789h1M4592 726h1M4596 721h1M4591 699h1M4619 789h1M4657 846h1M4595 846h1M4547 900h1M4700 693h1M4549 701h1M4606 700h1M4551 711h1M4613 616h1M4618 780h1M4580 787h1M4639 762h1M4658 738h1M4669 760h1M4559 790h1M4588 833h1M4583 772h1M4658 766h1M4626 723h1M4565 697h1M4715 800h1M4698 785h1M4667 861h1M4543 835h1M4678 860h1M4634 842h1M4542 795h1M4605 879h1M4634 920h1M4624 817h1M4579 726h1M4678 738h1M4610 640h1M4600 699h1M4609 820h1M4606 678h1M4598 644h1M4615 839h1M4668 701h1M4602 726h1M4484 706h1M4717 836h1M4620 867h1M4559 688h1M4519 774h1M4702 776h1M4544 666h1M4628 774h1M4654 820h1M4593 755h1M4591 735h1M4605 842h1M4573 680h1M4648 789h1M4542 764h1M4629 817h1M4640 621h1M4626 750h1M4603 756h1M4616 657h1M4639 753h1M4635 747h1M4569 817h1M4539 771h1M4552 744h1M4562 766h1M4629 784h1M4682 793h1M4471 815h1M4578 793h1M4636 775h1M4657 700h1M4568 714h1M4499 795h1M4557 786h1M4645 718h1M4537 777h1M4637 768h1M4549 779h1M4560 781h1M4700 759h1M4569 878h1M4581 882h1M4616 812h1M4605 630h1M4557 691h1M4525 876h1M4628 799h1M4628 674h1M4607 944h1M4653 832h1M4621 885h1M4556 868h1M4626 680h1M4559 915h1M4549 793h1M4688 718h1M4619 687h1M4567 719h1M4662 779h1M4561 748h1M4538 748h1M4605 845h1M4534 899h1M4591 675h1M4608 855h1M4490 775h1M4534 832h1M4547 733h1M4575 853h1M4641 731h1M4580 769h1M4685 780h1M4541 779h1M4549 622h1M4617 644h1M4525 714h1M4575 676h1M4552 763h1M4637 805h1M4532 696h1M4583 922h1M4563 855h1M4612 662h1M4486 685h1M4633 632h1M4583 875h1M4600 673h1M4632 686h1M4653 810h1M4581 667h1M4561 822h1M4555 699h1M4576 863h1M4622 816h1M4554 718h1M4674 851h1M4638 868h1M4618 671h1M4624 792h1M4524 750h1M4545 820h1M4611 682h1M4659 799h1M4668 833h1M4607 709h1M4610 669h1M4667 723h1M4522 649h1M4528 861h1M4670 737h1M4566 860h1M4579 713h1M4587 696h1M4575 731h1M4578 699h1M4629 818h1M4562 783h1M4658 820h1M4582 841h1M4550 785h1M4624 888h1M4619 845h1M4594 732h1M4659 838h1M4573 862h1M4599 837h1M4555 735h1M4702 869h1M4675 806h1M4656 767h1M4636 815h1M4627 713h1M4531 747h1M4551 827h1M4561 795h1M4669 704h1M4544 651h1M4629 851h1M4679 724h1M4483 797h1M4640 837h1M4559 730h1M4623 697h1M4524 790h1M4516 769h1M4629 728h1M4579 801h1M4548 719h1M4569 910h1M4647 839h1M4595 893h1M4694 776h1M4537 916h1M4629 712h1M4574 701h1M4683 887h1M4597 711h1M4562 799h1M4529 777h1M4666 863h1M4566 753h1M4625 918h1M4576 756h1M4547 927h1M4632 843h1M4609 747h1M4534 856h1M4588 747h1M4523 851h1M4547 933h1M4583 671h1M4596 687h1M4547 788h1M4680 753h1M4588 707h1M4559 773h1M4540 848h1M4565 761h1M4537 692h1M4659 817h1M4663 715h1M4571 833h1M4665 814h1M4569 648h1M4617 679h1M4570 689h1M4652 736h1M4637 699h1M4686 783h1M4601 691h1M4577 869h1M4623 741h1M4625 826h1M4574 822h1M4582 746h1M4608 850h1M4686 859h1M4647 846h1M4562 885h1M4634 784h1M4599 666h1M4615 641h1M4612 717h1M4599 784h1M4549 868h1M4587 737h1M4617 845h1M4569 809h1M4528 659h1M4536 680h1M4649 713h1M4660 756h1M4604 856h1M4524 772h1M4621 874h1M4578 830h1M4571 782h1M4591 797h1M4734 728h1M4629 767h1M4612 635h1M4535 761h1M4642 726h1M4640 696h1M4677 738h1M4615 715h1M4638 886h1M4628 636h1M4553 742h1M4623 875h1M4602 853h1M4521 869h1M4523 685h1M4568 659h1M4633 758h1M4591 897h1M4663 705h1M4651 785h1M4680 841h1M4698 794h1M4603 723h1M4718 770h1M4565 782h1M4535 801h1M4572 699h1M4708 776h1M4678 801h1M4591 887h1M4506 785h1M4650 759h1M4571 858h1M4586 828h1M4659 810h1M4617 829h1M4577 845h1M4604 765h1M4541 738h1M4544 847h1M4592 751h1M4653 926h1M4552 840h1M4598 765h1M4637 796h1M4517 638h1M4644 699h1M4535 645h1M4632 856h1M4650 830h1M4581 695h1M4715 842h1M4679 836h1M4589 845h1M4681 746h1M4688 697h1M4623 828h1M4591 767h1M4556 696h1M4717 735h1M4602 942h1M4526 679h1M4568 672h1M4568 885h1M4689 814h1M4690 711h1M4602 773h1M4659 702h1M4655 856h1M4501 684h1M4671 694h1M4627 870h1M4567 879h1M4502 786h1M4644 856h1M4605 837h1M4519 740h1M4676 841h1M4620 722h1M4633 829h1M4562 848h1M4659 745h1M4602 684h1M4664 805h1M4589 690h1M4582 674h1M4559 897h1M4538 661h1M4577 817h1M4665 899h1M4558 837h1M4544 880h1M4643 747h1M4521 743h1M4683 843h1M4552 790h1M4635 662h1M4563 844h1M4534 766h1M4594 868h1M4589 855h1M4651 768h1M4628 698h1M4594 807h1M4725 728h1M4642 794h1M4568 829h1M4516 748h1M4643 707h1M4545 770h1M4551 646h1M4564 775h1M4618 726h1M4611 598h1M4597 648h1M4514 789h1M4617 697h1M4611 673h1M4536 839h1M4650 757h1M4642 684h1M4548 758h1M4576 887h1M4605 796h1M4578 632h1M4525 744h1M4562 817h1M4599 805h1M4605 736h1M4698 721h1M4643 770h1M4563 839h1M4573 827h1M4631 823h1M4697 864h1M4563 820h1M4570 898h1M4550 859h1M4610 877h1M4582 935h1M4700 835h1M4610 814h1M4693 728h1M4663 786h1M4639 862h1M4637 725h1M4518 789h1M4540 836h1M4508 725h1M4591 850h1M4586 698h1M4622 663h1M4540 872h1M4551 770h1M4565 714h1M4521 715h1M4579 647h1M4551 686h1M4605 617h1M4625 710h1M4491 727h1M4652 820h1M4655 868h1M4643 784h1M4505 716h1M4559 637h1M4535 807h1M4596 741h1M4655 742h1M4661 697h1M4683 726h1M4638 718h1M4800 824h1M4530 816h1M4537 754h1M4564 772h1M4641 811h1M4551 750h1M4632 745h1M4457 780h1M4616 924h1M4545 903h1M4661 732h1M4575 767h1M4600 618h1M4667 708h1M4598 799h1M4640 674h1M4697 767h1M4597 858h1M4477 806h1M4553 766h1M4549 865h1M4588 643h1M4533 823h1M4563 796h1M4675 711h1M4603 885h1M4576 666h1M4653 721h1M4605 732h1M4673 801h1M4537 772h1M4565 700h1M4694 791h1M4538 673h1M4490 757h1M4656 835h1M4684 804h1M4598 826h1M4623 706h1M4662 805h1M4564 907h1M4636 778h1M4556 935h1M4547 786h1M4692 752h1M4643 883h1M4656 816h1M4667 811h1M4670 776h1M4521 815h1M4691 725h1M4533 908h1M4534 890h1M4644 696h1M4543 696h1M4697 820h1M4583 740h1M4526 734h1M4568 765h1M4516 799h1M4640 652h1M4672 752h1M4716 759h1M4655 731h1M4511 783h1M4607 590h1M4630 611h1M4531 714h1M4682 768h1M4594 665h1M4531 823h1M4485 697h1M4598 668h1M4638 875h1M4623 907h1M4695 726h1M4614 860h1M4493 764h1M4538 880h1M4604 957h1M4675 812h1M4673 764h1M4544 657h1M4518 721h1M4655 736h1M4624 799h1M4657 715h1M4658 824h1M4523 857h1M4512 681h1M4522 769h1M4518 656h1M4661 752h1M4465 815h1M4614 854h1M4700 754h1M4607 775h1M4701 772h1M4590 915h1M4697 838h1M4607 874h1M4619 849h1M4528 808h1M4563 888h1M4619 650h1M4605 783h1M4536 819h1M4586 624h1M4530 706h1M4669 771h1M4490 801h1M4540 745h1M4490 750h1M4619 882h1M4577 776h1M4477 781h1M4574 850h1M4560 759h1M4589 635h1M4618 837h1M4672 813h1M4643 638h1M4532 889h1M4641 802h1M4547 721h1M4643 823h1M4555 864h1M4603 906h1M4600 682h1M4545 756h1M4604 624h1M4551 649h1M4549 820h1M4626 619h1M4649 836h1M4540 736h1M4671 819h1M4613 939h1M4499 671h1M4627 733h1M4544 684h1M4615 688h1M4586 799h1M4575 897h1M4526 865h1M4552 738h1M4652 798h1M4562 618h1M4568 762h1M4666 735h1M4688 700h1M4637 809h1M4668 855h1M4524 810h1M4582 814h1M4590 934h1M4557 656h1M4636 818h1M4698 733h1M4707 737h1M4526 690h1M4579 764h1M4721 788h1M4574 835h1M4533 701h1M4606 823h1M4516 721h1M4643 836h1M4557 888h1M4539 731h1M4518 764h1M4690 734h1M4518 730h1M4632 806h1M4665 730h1M4598 641h1M4629 679h1M4613 869h1M4529 793h1M4492 770h1M4497 745h1M4649 854h1M4673 756h1M4655 777h1M4567 725h1M4681 775h1M4682 718h1M4578 898h1M4523 777h1M4653 789h1M4580 692h1M4696 849h1M4675 735h1M4538 822h1M4637 688h1M4681 695h1M4617 651h1M4618 674h1M4470 764h1M4738 735h1M4557 858h1M4590 667h1M4598 733h1M4577 758h1M4596 726h1M4668 785h1M4620 660h1M4537 652h1M4573 691h1M4669 882h1M4640 847h1M4555 951h1M4543 918h1M4659 722h1M4525 922h1M4635 845h1M4726 896h1M4569 679h1M4640 903h1M4605 677h1M4605 891h1M4629 661h1M4652 862h1M4614 671h1M4527 925h1M4529 725h1M4528 943h1M4561 861h1M4674 720h1M4634 596h1M4531 914h1M4584 665h1M4594 841h1M4546 774h1M4678 813h1M4576 661h1M4677 705h1M4598 909h1M4634 652h1M4494 773h1M4639 785h1M4573 694h1M4707 811h1M4540 864h1M4617 884h1M4707 729h1M4611 666h1M4609 656h1M4559 864h1M4706 817h1M4631 860h1M4559 736h1M4599 590h1M4543 809h1M4503 758h1M4608 860h1M4572 842h1M4691 846h1M4516 747h1M4584 942h1M4650 976h1M4695 757h1M4719 733h1M4635 854h1M4639 659h1M4539 931h1M4575 600h1M4547 672h1M4575 914h1M4673 724h1M4557 747h1M4534 745h1M4566 868h1M4626 881h1M4723 752h1M4636 866h1M4684 812h1M4536 808h1M4706 773h1M4706 755h1M4524 781h1M4685 868h1M4569 707h1M4704 820h1M4677 729h1M4597 624h1M4642 571h1M4674 748h1M4687 816h1M4615 786h1M4663 838h1M4670 711h1M4673 693h1M4695 740h1M4536 742h1M4648 806h1M4720 750h1M4572 580h1M4563 733h1M4536 883h1M4670 838h1M4501 809h1M4545 816h1M4522 865h1M4576 605h1M4647 868h1M4538 884h1M4696 711h1M4623 609h1M4522 754h1M4543 743h1M4534 663h1M4575 839h1M4702 746h1M4619 803h1M4686 751h1M4647 931h1M4674 774h1M4721 762h1M4520 830h1M4554 603h1M4534 788h1M4529 832h1M4528 755h1M4512 664h1M4586 897h1M4516 688h1M4510 814h1M4548 732h1M4665 767h1M4566 681h1M4551 933h1M4612 630h1M4559 665h1M4691 804h1M4681 729h1M4628 625h1M4671 806h1M4674 792h1M4520 826h1M4646 709h1M4585 913h1M4688 786h1M4530 898h1M4583 879h1M4545 716h1M4587 689h1M4569 856h1M4594 909h1M4652 705h1M4661 712h1M4547 883h1M4530 739h1M4529 834h1M4604 707h1M4598 863h1M4718 742h1M4522 876h1M4667 857h1M4624 865h1M4510 812h1M4522 787h1M4563 873h1M4570 871h1M4538 901h1M4509 684h1M4518 801h1M4680 807h1M4641 616h1M4703 720h1M4648 793h1M4555 881h1M4594 640h1M4568 748h1M4514 710h1M4573 669h1M4663 745h1M4683 730h1M4547 741h1M4509 694h1M4623 628h1M4683 734h1M4513 732h1M4571 1004h1M4504 708h1M4581 682h1M4695 875h1M4644 653h1M4661 795h1M4566 811h1M4621 842h1M4727 793h1M4590 870h1M4544 688h1M4611 888h1M4517 733h1M4644 676h1M4532 637h1M4550 704h1M4666 874h1M4541 807h1M4638 742h1M4512 801h1M4629 934h1M4609 650h1M4518 686h1M4639 666h1M4628 771h1M4657 875h1M4544 727h1M4530 856h1M4677 817h1M4604 652h1M4562 678h1M4644 831h1M4548 663h1M4536 869h1M4603 643h1M4605 608h1M4635 896h1M4557 893h1M4635 881h1M4487 750h1M4683 693h1M4586 899h1M4690 738h1M4506 753h1M4566 887h1M4525 868h1M4576 656h1M4628 670h1M4644 591h1M4560 842h1M4550 950h1M4625 853h1M4516 757h1M4632 900h1M4496 760h1M4496 754h1M4542 858h1M4541 896h1M4548 639h1M4719 815h1M4580 853h1M4677 713h1M4671 742h1M4651 699h1M4683 757h1M4594 926h1M4692 839h1M4530 646h1M4689 765h1M4683 714h1M4619 644h1M4548 653h1M4603 635h1M4686 819h1M4611 897h1M4558 853h1M4576 625h1M4754 699h1M4492 696h1M4643 880h1M4616 878h1M4537 817h1M4649 810h1M4570 708h1M4676 831h1M4542 826h1M4682 751h1M4573 927h1M4592 880h1M4681 832h1M4693 803h1M4732 750h1M4511 652h1M4639 654h1M4569 895h1M4528 688h1M4507 790h1M4646 815h1M4701 729h1M4712 762h1M4723 777h1M4517 760h1M4667 852h1M4530 718h1M4526 759h1M4567 659h1M4669 846h1M4474 760h1M4691 754h1M4530 729h1M4495 717h1M4692 780h1M4615 684h1M4618 857h1M4670 765h1M4678 844h1M4627 649h1M4700 708h1M4676 758h1M4701 766h1M4443 777h1M4536 847h1M4502 718h1M4471 789h1M4505 721h1M4529 911h1M4526 731h1M4532 677h1M4602 878h1M4508 765h1M4689 758h1M4684 720h1M4594 631h1M4713 813h1M4538 727h1M4537 736h1M4624 852h1M4580 861h1M4616 631h1M4530 847h1M4645 819h1M4567 813h1M4583 865h1M4541 705h1M4542 678h1M4686 798h1M4590 832h1M4552 697h1M4623 657h1M4494 651h1M4627 667h1M4539 775h1M4664 782h1M4533 780h1M4621 631h1M4502 731h1M4624 623h1M4641 671h1M4606 897h1M4512 711h1M4462 728h1M4550 682h1M4664 843h1M4551 673h1M4591 821h1M4523 700h1M4562 912h1M4712 715h1M4665 869h1M4511 772h1M4680 705h1M4606 920h1M4594 906h1M4704 716h1M4500 741h1M4584 571h1M4633 627h1M4610 604h1M4554 851h1M4656 799h1M4533 862h1M4529 709h1M4651 816h1M4603 621h1M4706 834h1M4482 754h1M4537 732h1M4666 884h1M4525 885h1M4658 875h1M4675 743h1M4574 649h1M4661 857h1M4644 659h1M4705 699h1M4651 886h1M4657 787h1M4667 829h1M4557 685h1M4627 859h1M4544 639h1M4577 937h1M4559 933h1M4562 677h1M4681 852h1M4730 793h1M4651 746h1M4683 767h1M4717 781h1M4701 809h1M4507 702h1M4599 609h1M4668 802h1M4539 651h1M4698 842h1M4506 727h1M4694 802h1M4675 793h1M4696 734h1M4582 605h1M4691 860h1M4597 890h1M4464 796h1M4526 723h1M4653 704h1M4632 641h1M4615 899h1M4599 898h1M4663 888h1M4523 844h1M4699 801h1M4666 694h1M4544 869h1M4521 895h1M4515 716h1M4682 779h1M4549 672h1M4598 872h1M4511 796h1M4585 861h1M4624 599h1M4711 786h1M4537 752h1M4630 878h1M4704 778h1M4622 618h1M4711 729h1M4577 960h1M4696 698h1M4600 546h1M4720 848h1M4478 661h1M4629 548h1M4779 839h1M4467 636h1M4754 769h1M4517 687h1M4579 621h1M4720 983h1M4610 626h1M4524 674h1M4684 827h1M4434 673h1M4635 598h1M4566 554h1M4725 704h1M4596 607h1M4641 644h1M4643 939h1M4460 751h1M4649 889h1M4570 873h1M4765 784h1M4516 725h1M4729 763h1M4605 573h1M4779 724h1M4682 824h1M4757 724h1M4767 814h1M4703 923h1M4544 858h1M4822 707h1M4601 858h1M4538 710h1M4778 771h1M4760 788h1M4740 775h1M4510 758h1M4461 796h1M4514 783h1M4725 765h1M4759 811h1M4793 837h1M4528 650h1M4728 740h1M4823 830h1M4700 822h1M4500 807h1M4725 713h1M4532 602h1M4758 713h1M4626 912h1M4671 746h1M4731 729h1M4479 743h1M4846 767h1M4515 766h1M4553 682h1M4773 694h1M4710 791h1M4594 676h1M4738 835h1M4699 807h1M4547 547h1M4728 825h1M4630 614h1M4627 552h1M4735 724h1M4536 660h1M4561 880h1M4461 705h1M4444 815h1M4693 834h1M4591 892h1M4645 933h1M4567 710h1M4494 781h1M4539 855h1M4530 851h1M4529 595h1M4505 781h1M4694 770h1M4605 639h1M4583 617h1M4477 686h1M4425 767h1M4646 988h1M4551 879h1M4717 697h1M4596 621h1M4753 785h1M4569 637h1M4612 783h1M4499 788h1M4464 439h1M4676 836h1M4385 788h1M4526 946h1M4735 826h1M4629 654h1M4684 709h1M4413 626h1M4520 671h1M4565 646h1M4635 609h1M4804 816h1M4513 812h1M4450 809h1M4859 843h1M4479 801h1M4735 709h1M4622 581h1M4516 605h1M4514 666h1M4539 684h1M4469 711h1M4502 650h1M4741 882h1M4628 436h1M4723 699h1M4505 728h1M4843 734h1M4435 622h1M4715 710h1M4539 997h1M4718 862h1M4583 594h1M4574 898h1M4511 805h1M4396 773h1M4557 908h1M4681 713h1M4552 887h1M4780 787h1M4393 769h1M4477 802h1M4456 587h1M4798 906h1M4547 576h1M4781 837h1M4559 650h1M4578 587h1M4557 900h1M4768 888h1M4702 742h1M4546 621h1M4719 707h1M4745 788h1M4524 606h1M4818 870h1M4556 939h1M4491 767h1M4538 611h1M4506 766h1M4654 796h1M4547 605h1M4586 640h1M4481 619h1M4502 771h1M4692 810h1M4659 868h1M4483 722h1M4751 805h1M4802 736h1M4811 756h1M4483 690h1M4499 626h1M4897 695h1M4348 755h1M4562 693h1M4613 937h1M4562 869h1M4753 731h1M4539 906h1M4466 685h1M4565 1003h1M4620 639h1M4758 769h1M4844 793h1M4865 828h1M4698 929h1M4592 919h1M4427 770h1M4731 727h1M4506 743h1M4514 658h1M4483 665h1M4739 846h1M4561 632h1M4490 788h1M4479 817h1M4515 617h1M4474 783h1M4519 725h1M4711 805h1M4644 606h1M4679 878h1M4685 704h1M4486 659h1M4469 785h1M4568 594h1M4518 680h1M4534 671h1M4457 665h1M4633 565h1M4597 539h1M4489 794h1M4800 878h1M4681 853h1M4460 713h1M4802 693h1M4777 731h1M4742 764h1M4443 783h1M4720 917h1M4501 666h1M4779 745h1M4571 942h1M4476 632h1M4648 895h1M4813 815h1M4591 652h1M4567 642h1M4694 843h1M4707 785h1M4535 599h1M4700 844h1M4391 811h1M4603 559h1M4639 574h1M4623 547h1M4731 812h1M4418 622h1M4511 753h1M4590 621h1M4784 740h1M4751 793h1M4447 652h1M4793 732h1M4624 952h1M4479 789h1M4601 488h1M4719 756h1M4579 594h1M4620 537h1M4748 778h1M4705 770h1M4624 886h1M4883 736h1M4530 641h1M4644 613h1M4471 781h1M4798 798h1M4722 775h1M4737 749h1M4733 770h1M4485 772h1M4517 817h1M4547 646h1M4712 736h1M4718 898h1M4448 775h1M4508 788h1M4517 780h1M4558 918h1M4772 846h1M4501 801h1M4800 835h1M4710 698h1M4457 683h1M4832 775h1M4486 784h1M4589 625h1M4480 624h1M4614 911h1M4765 778h1M4498 758h1M4688 866h1M4547 701h1M4446 779h1M4741 781h1M4730 784h1M4748 771h1M4817 740h1M4729 832h1M4727 878h1M4526 825h1M4534 674h1M4729 714h1M4753 811h1M4483 765h1M4775 775h1M4701 749h1M4817 766h1M4655 884h1M4574 613h1M4697 904h1M4778 811h1M4564 942h1M4532 872h1M4502 596h1M4631 876h1M4536 535h1M4413 801h1M4589 639h1M4587 496h1M4842 723h1M4516 626h1M4793 779h1M4786 773h1M4453 772h1M4384 763h1M4556 652h1M4768 837h1M4752 827h1M4545 602h1M4545 942h1M4604 556h1M4547 930h1M4536 937h1M4616 584h1M4434 797h1M4452 782h1M4530 685h1M4789 769h1M4684 904h1M4495 653h1M4722 778h1M4548 940h1M4736 865h1M4724 800h1M4520 760h1M4726 831h1M4799 716h1M4598 560h1M4613 932h1M4419 782h1M4468 800h1M4562 964h1M4701 921h1M4712 708h1M4709 757h1M4636 604h1M4646 907h1M4550 691h1M4783 712h1M4914 708h1M4566 564h1M4771 712h1M4482 655h1M4706 858h1M4487 742h1M4449 617h1M4449 805h1M4609 644h1M4678 896h1M4595 543h1M4602 891h1M4715 725h1M4774 816h1M4797 789h1M4585 635h1M4743 785h1M4493 606h1M4585 582h1M4703 705h1M4617 577h1M4576 611h1M4506 653h1M4747 776h1M4703 831h1M4502 619h1M4609 576h1M4783 800h1M4842 716h1M4703 788h1M4578 991h1M4727 780h1M4523 669h1M4783 839h1M4413 784h1M4782 721h1M4770 861h1M4929 702h1M4465 681h1M4812 790h1M4588 600h1M4731 697h1M4560 588h1M4463 603h1M4504 772h1M4733 746h1M4490 804h1M4549 475h1M4722 819h1M4672 724h1M4827 767h1M4681 875h1M4482 741h1M4745 797h1M4617 537h1M4623 662h1M4493 629h1M4627 525h1M4608 902h1M4522 688h1M4721 826h1M4613 920h1M4564 664h1M4636 907h1M4519 733h1M4773 810h1M4497 674h1M4728 843h1M4546 960h1M4777 826h1M4830 772h1M4458 804h1M4571 466h1M4588 660h1M4576 963h1M4702 706h1M4706 710h1M4593 876h1M4547 566h1M4353 659h1M4529 907h1M4508 782h1M4722 959h1M4642 518h1M4503 733h1M4565 895h1M4667 799h1M4835 799h1M4776 807h1M4620 596h1M4444 743h1M4473 728h1M4519 614h1M4552 847h1M4725 905h1M4562 581h1M4741 859h1M4590 910h1M4476 789h1M4492 692h1M4705 723h1M4644 474h1M4547 660h1M4711 846h1M4526 595h1M4621 503h1M4493 724h1M4631 887h1M4708 780h1M4656 905h1M4495 702h1M4810 729h1M4710 747h1M4501 694h1M4846 787h1M4750 742h1M4766 758h1M4785 748h1M4439 716h1M4728 813h1M4769 817h1M4661 843h1M4695 720h1M4505 801h1M4530 589h1M4708 871h1M4576 573h1M4601 650h1M4538 607h1M4732 772h1M4729 842h1M4522 840h1M4425 648h1M4537 633h1M4743 853h1M4637 875h1M4838 793h1M4857 811h1M4850 739h1M4489 779h1M4480 809h1" stroke="#828282" stroke-width="9.5" stroke-linecap="round" fill="none" opacity="1"/>
<path transform="scale(0.1)" d="M4519 835h1M4496 819h1M4516 860h1M4493 844h1M4508 941h1M4511 847h1M4519 846h1M4517 893h1M4509 869h1M4493 834h1M4508 835h1M4505 882h1M4503 841h1M4506 846h1M4517 819h1M4487 862h1M4488 819h1M4499 847h1M4503 858h1M4451 864h1M4479 844h1M4465 842h1M4500 861h1M4502 852h1M4517 867h1M4517 852h1M4516 828h1M4509 886h1M4500 820h1M4517 879h1M4496 883h1M4449 833h1M4517 898h1M4503 822h1M4519 859h1M4508 857h1M4505 827h1M4481 860h1M4503 830h1M4508 875h1M4506 904h1M4507 877h1M4502 869h1M4477 823h1M4514 877h1M4512 841h1M4513 827h1M4488 895h1M4505 863h1M4499 830h1M4519 838h1M4512 821h1M4507 856h1M4504 889h1M4476 832h1M4515 884h1M4496 870h1M4494 861h1M4512 861h1M4508 968h1M4504 910h1M4516 892h1M4516 836h1M4478 853h1M4485 853h1M4506 995h1M4508 933h1M4435 968h1M4488 887h1M4518 922h1M4486 905h1M4450 921h1M4466 945h1M4448 912h1M4490 863h1M4348 872h1M4512 902h1M4454 920h1M4433 844h1M4376 839h1M4509 904h1M4379 846h1M4463 833h1M4505 896h1M4459 869h1M4465 894h1M4490 846h1M4386 922h1M4475 905h1M4442 829h1M4452 847h1M4448 955h1M4499 840h1M4405 850h1M4442 876h1M4510 863h1M4450 831h1M4446 836h1M4497 874h1M4491 929h1M4486 838h1M4460 919h1M4519 866h1M4473 822h1M4370 893h1M4479 991h1M4507 899h1M4412 952h1M4448 824h1M4416 879h1M4505 924h1M4447 931h1M4410 858h1M4516 917h1M4509 880h1M4435 830h1M4484 823h1M4484 1016h1M4471 891h1M4485 885h1M4446 844h1M4479 825h1M4491 879h1M4512 893h1M4416 936h1M4470 984h1M4450 852h1M4466 961h1M4471 833h1M4517 842h1M4418 846h1M4493 867h1M4402 871h1M4308 951h1M4504 835h1M4471 852h1M4420 870h1M4412 831h1M4477 909h1M4385 838h1M4489 927h1M4518 937h1M4431 830h1M4504 938h1M4482 934h1M4432 867h1M4485 847h1M4432 821h1M4465 884h1M4470 901h1M4388 842h1M4447 891h1M4502 904h1M4475 837h1M4454 844h1M4470 819h1M4499 833h1M4424 861h1M4500 946h1M4518 880h1M4422 960h1M4439 868h1M4478 838h1M4494 829h1M4509 848h1M4393 828h1M4485 822h1M4458 829h1M4424 865h1M4466 856h1M4496 939h1M4419 881h1M4356 900h1M4467 880h1M4459 874h1M4507 852h1M4405 853h1M4332 862h1M4338 869h1M4437 824h1M4458 976h1M4430 825h1M4468 823h1M4509 890h1M4463 849h1M4423 911h1M4500 895h1M4456 818h1M4390 886h1M4404 847h1M4491 950h1" stroke="#383838" stroke-width="7.5" stroke-linecap="round" fill="none" opacity="0.85"/>
<path transform="scale(0.1)" d="M4670 689h1M4645 692h1M4710 630h1M4658 692h1M4703 683h1M4688 685h1M4673 664h1M4676 676h1M4647 676h1M4646 671h1M4647 659h1M4645 681h1M4687 629h1M4665 651h1M4661 672h1M4666 688h1M4709 645h1M4747 684h1M4681 683h1M4648 651h1M4704 626h1M4665 674h1M4696 609h1M4721 656h1M4678 671h1M4662 682h1M4648 663h1M4678 659h1M4712 648h1M4666 663h1M4683 653h1M4645 687h1M4699 631h1M4669 622h1M4680 689h1M4696 631h1M4649 672h1M4692 681h1M4649 686h1M4666 686h1M4658 674h1M4679 677h1M4673 619h1M4679 627h1M4666 618h1M4677 649h1M4648 676h1M4645 617h1M4676 684h1M4713 638h1M4695 678h1M4659 685h1M4648 619h1M4656 686h1M4671 670h1M4680 682h1M4655 690h1M4664 661h1M4680 643h1M4653 641h1M4669 649h1M4673 670h1M4651 658h1M4727 687h1M4671 684h1M4654 661h1M4647 626h1M4674 659h1M4652 679h1M4713 692h1M4659 594h1M4689 616h1M4682 641h1M4695 688h1M4656 579h1M4673 690h1M4655 651h1M4647 652h1M4666 669h1M4659 653h1M4671 673h1M4692 689h1M4697 671h1M4667 681h1M4666 636h1M4646 667h1M4691 676h1M4655 675h1M4721 671h1M4724 663h1M4683 680h1M4728 648h1M4706 666h1M4665 654h1M4654 654h1M4687 684h1M4680 664h1M4735 613h1M4653 682h1M4645 644h1M4685 623h1M4668 666h1M4716 610h1M4686 688h1M4660 661h1M4648 617h1M4703 622h1M4710 625h1M4671 636h1M4648 647h1M4688 632h1M4683 672h1M4703 652h1M4648 641h1M4656 631h1M4653 666h1M4741 553h1M4685 598h1M4730 657h1M4670 646h1M4727 629h1M4693 575h1M4752 656h1M4735 580h1M4659 619h1M4736 596h1M4740 539h1M4679 578h1M4648 599h1M4663 555h1M4800 671h1M4748 641h1M4737 588h1M4662 514h1M5015 566h1M4795 649h1M4703 577h1M5018 521h1M4687 590h1M4730 667h1M4750 687h1M4712 686h1M4675 587h1M4741 632h1M4671 517h1M4708 641h1M4647 497h1M4852 646h1M4745 679h1M4758 686h1M4762 657h1M4768 605h1M4753 683h1M4666 471h1M4769 671h1M4776 636h1M4812 595h1M4660 627h1M4876 690h1M4798 653h1M4726 459h1M4779 587h1M4746 659h1M4779 678h1M4788 532h1M4679 528h1M4820 649h1M4741 685h1M4749 682h1M4712 664h1M4741 672h1M4679 593h1M4796 667h1M4815 629h1M4706 690h1M4792 678h1M4767 672h1M4667 595h1M4706 681h1M4749 595h1M4732 612h1M4673 482h1M4671 638h1M4786 672h1M4697 616h1M4683 643h1M4721 641h1M4810 643h1M4781 663h1M4794 621h1M4714 618h1M4702 680h1M4850 467h1M4684 505h1M4988 474h1M4764 644h1M4888 634h1M4785 605h1M4800 598h1M4722 538h1M4712 590h1M4652 692h1M4665 575h1M4686 574h1M4695 639h1M4668 601h1M4865 678h1M4662 643h1M4695 547h1M4683 666h1M4676 653h1M4717 648h1M4721 629h1M4713 499h1M4748 648h1M4782 602h1M4751 666h1M4785 612h1M4783 452h1M5046 626h1M4753 629h1M4693 507h1M4654 604h1M4647 641h1M4679 557h1M4661 588h1M4800 479h1M4689 555h1M4704 647h1M4773 572h1M4687 633h1M4701 568h1M4661 639h1M4800 639h1M4704 657h1M4732 626h1M4681 611h1M4679 620h1M4759 666h1M4765 655h1M4890 484h1M4723 679h1M4702 674h1M4868 690h1M4705 602h1M4715 398h1M4783 479h1M4727 583h1M4690 664h1M4701 689h1M4662 628h1M4871 623h1M4684 652h1M4744 667h1M4678 649h1M4653 608h1M4743 615h1M4817 581h1M4674 646h1M4730 659h1M4839 662h1M4715 669h1M4829 655h1M4784 552h1M4670 625h1M4732 689h1M4736 677h1M4745 628h1M4710 637h1M4706 629h1M4803 689h1M4667 587h1M4681 657h1M4746 692h1M4685 639h1M4772 550h1M4721 618h1M4903 692h1M4698 660h1M4736 669h1M4662 602h1M4665 626h1M4762 681h1M4710 682h1M4723 566h1M4666 640h1M4696 565h1M4737 665h1M4711 573h1M4752 626h1M4645 636h1M4817 659h1M4780 687h1M4834 579h1M4672 518h1M4699 559h1M4649 632h1M4741 602h1M4902 497h1M4750 567h1M4649 625h1M4673 629h1M4805 644h1M4805 653h1M4820 605h1M4761 488h1M4782 627h1M4907 639h1M4682 635h1M4786 690h1M4672 657h1M4786 655h1M4735 652h1M4853 617h1M4772 686h1M4741 691h1M4776 667h1M4833 624h1M4669 680h1M4919 659h1M4764 621h1M4791 456h1M4732 681h1M4665 502h1M4759 614h1M4927 604h1M4662 562h1M4651 536h1M4773 559h1M4861 647h1M4755 370h1M4840 395h1M4684 571h1M4710 656h1M4704 610h1M4722 450h1M4703 670h1M4876 673h1M4662 667h1M4702 643h1M4795 660h1M4666 604h1M4705 558h1M4658 607h1M4672 559h1M4657 644h1M4794 653h1M4648 574h1M4849 599h1M4705 466h1M4765 649h1M4746 582h1M4758 672h1M4692 647h1M4681 604h1M4718 681h1M4671 540h1M4737 682h1M4701 525h1M4646 589h1M4778 609h1M4946 673h1M4652 413h1M4809 369h1M4683 658h1M4719 610h1M4795 597h1M4825 429h1M4763 580h1M4805 362h1M4699 583h1M4674 564h1M4669 662h1M4742 660h1M4740 682h1M4789 660h1M4717 677h1M4677 540h1M4722 688h1M4723 534h1M4670 632h1M4680 520h1M4824 575h1M4799 573h1M4780 607h1M4739 617h1M4743 558h1M4782 594h1M4654 670h1M4761 580h1M4854 622h1M4741 646h1M4819 602h1M4663 590h1M4695 402h1M4720 582h1M4647 285h1M4725 671h1M4735 640h1M4807 572h1M4792 496h1M4721 585h1M4702 538h1M4698 655h1M4721 686h1M4838 449h1M4719 553h1M4717 489h1M4702 651h1M4729 520h1M4741 677h1M4908 662h1M4713 604h1M4856 514h1M4676 561h1M4671 616h1M4692 440h1M4665 476h1M4835 548h1M4730 595h1M4650 385h1M4666 614h1M4788 462h1M4803 581h1M4800 682h1M4984 592h1M4744 584h1M4720 636h1M4679 540h1M4776 603h1M4771 628h1M4677 467h1M4658 396h1M4755 674h1M4653 564h1M4692 559h1M4854 672h1M4715 684h1M4647 653h1M4692 658h1M4665 631h1M4662 652h1M4723 659h1M4691 656h1M4693 661h1M4732 685h1M4702 669h1M4685 677h1M4701 683h1M4711 674h1M4717 634h1M4713 682h1M4715 667h1M4693 675h1M4674 681h1M4710 622h1" stroke="#cf0f2d" stroke-width="8.0" stroke-linecap="round" fill="none" opacity="0.9"/>
<line x1="458.20" y1="25.50" x2="458.20" y2="125.50" stroke="#161616" stroke-width="0.9" />
<line x1="408.00" y1="75.50" x2="508.00" y2="75.50" stroke="#161616" stroke-width="0.9" />
<rect x="408" y="25.5" width="100" height="100.0" fill="none" stroke="#161616" stroke-width="1"/>
<line x1="405.60" y1="125.50" x2="408.00" y2="125.50" stroke="#161616" stroke-width="0.9" />
<line x1="408.20" y1="125.50" x2="408.20" y2="127.90" stroke="#161616" stroke-width="0.9" />
<line x1="405.60" y1="100.50" x2="408.00" y2="100.50" stroke="#161616" stroke-width="0.9" />
<line x1="433.20" y1="125.50" x2="433.20" y2="127.90" stroke="#161616" stroke-width="0.9" />
<line x1="405.60" y1="75.50" x2="408.00" y2="75.50" stroke="#161616" stroke-width="0.9" />
<line x1="458.20" y1="125.50" x2="458.20" y2="127.90" stroke="#161616" stroke-width="0.9" />
<line x1="405.60" y1="50.50" x2="408.00" y2="50.50" stroke="#161616" stroke-width="0.9" />
<line x1="483.20" y1="125.50" x2="483.20" y2="127.90" stroke="#161616" stroke-width="0.9" />
<line x1="405.60" y1="25.50" x2="408.00" y2="25.50" stroke="#161616" stroke-width="0.9" />
<line x1="508.20" y1="125.50" x2="508.20" y2="127.90" stroke="#161616" stroke-width="0.9" />
<line x1="406.60" y1="119.25" x2="408.00" y2="119.25" stroke="#161616" stroke-width="0.75" />
<line x1="414.45" y1="125.50" x2="414.45" y2="126.90" stroke="#161616" stroke-width="0.75" />
<line x1="406.60" y1="113.00" x2="408.00" y2="113.00" stroke="#161616" stroke-width="0.75" />
<line x1="420.70" y1="125.50" x2="420.70" y2="126.90" stroke="#161616" stroke-width="0.75" />
<line x1="406.60" y1="106.75" x2="408.00" y2="106.75" stroke="#161616" stroke-width="0.75" />
<line x1="426.95" y1="125.50" x2="426.95" y2="126.90" stroke="#161616" stroke-width="0.75" />
<line x1="406.60" y1="94.25" x2="408.00" y2="94.25" stroke="#161616" stroke-width="0.75" />
<line x1="439.45" y1="125.50" x2="439.45" y2="126.90" stroke="#161616" stroke-width="0.75" />
<line x1="406.60" y1="88.00" x2="408.00" y2="88.00" stroke="#161616" stroke-width="0.75" />
<line x1="445.70" y1="125.50" x2="445.70" y2="126.90" stroke="#161616" stroke-width="0.75" />
<line x1="406.60" y1="81.75" x2="408.00" y2="81.75" stroke="#161616" stroke-width="0.75" />
<line x1="451.95" y1="125.50" x2="451.95" y2="126.90" stroke="#161616" stroke-width="0.75" />
<line x1="406.60" y1="69.25" x2="408.00" y2="69.25" stroke="#161616" stroke-width="0.75" />
<line x1="464.45" y1="125.50" x2="464.45" y2="126.90" stroke="#161616" stroke-width="0.75" />
<line x1="406.60" y1="63.00" x2="408.00" y2="63.00" stroke="#161616" stroke-width="0.75" />
<line x1="470.70" y1="125.50" x2="470.70" y2="126.90" stroke="#161616" stroke-width="0.75" />
<line x1="406.60" y1="56.75" x2="408.00" y2="56.75" stroke="#161616" stroke-width="0.75" />
<line x1="476.95" y1="125.50" x2="476.95" y2="126.90" stroke="#161616" stroke-width="0.75" />
<line x1="406.60" y1="44.25" x2="408.00" y2="44.25" stroke="#161616" stroke-width="0.75" />
<line x1="489.45" y1="125.50" x2="489.45" y2="126.90" stroke="#161616" stroke-width="0.75" />
<line x1="406.60" y1="38.00" x2="408.00" y2="38.00" stroke="#161616" stroke-width="0.75" />
<line x1="495.70" y1="125.50" x2="495.70" y2="126.90" stroke="#161616" stroke-width="0.75" />
<line x1="406.60" y1="31.75" x2="408.00" y2="31.75" stroke="#161616" stroke-width="0.75" />
<line x1="501.95" y1="125.50" x2="501.95" y2="126.90" stroke="#161616" stroke-width="0.75" />
<text x="403.80" y="127.60" font-size="6.2" text-anchor="end" fill="#3a3a3a"  stroke="#3a3a3a" stroke-width="0.18">−80</text>
<text x="407.20" y="136.80" font-size="6.2" text-anchor="middle" fill="#3a3a3a"  stroke="#3a3a3a" stroke-width="0.18">−80</text>
<text x="403.80" y="102.60" font-size="6.2" text-anchor="end" fill="#3a3a3a"  stroke="#3a3a3a" stroke-width="0.18">−40</text>
<text x="432.20" y="136.80" font-size="6.2" text-anchor="middle" fill="#3a3a3a"  stroke="#3a3a3a" stroke-width="0.18">−40</text>
<text x="403.80" y="77.60" font-size="6.2" text-anchor="end" fill="#3a3a3a"  stroke="#3a3a3a" stroke-width="0.18">0</text>
<text x="458.20" y="136.80" font-size="6.2" text-anchor="middle" fill="#3a3a3a"  stroke="#3a3a3a" stroke-width="0.18">0</text>
<text x="403.80" y="52.60" font-size="6.2" text-anchor="end" fill="#3a3a3a"  stroke="#3a3a3a" stroke-width="0.18">40</text>
<text x="483.20" y="136.80" font-size="6.2" text-anchor="middle" fill="#3a3a3a"  stroke="#3a3a3a" stroke-width="0.18">40</text>
<text x="403.80" y="27.60" font-size="6.2" text-anchor="end" fill="#3a3a3a"  stroke="#3a3a3a" stroke-width="0.18">80</text>
<text x="508.20" y="136.80" font-size="6.2" text-anchor="middle" fill="#3a3a3a"  stroke="#3a3a3a" stroke-width="0.18">80</text>
<text x="458.10" y="20.80" font-size="7.9" text-anchor="middle" fill="#262626" textLength="60.6" lengthAdjust="spacingAndGlyphs"  stroke="#262626" stroke-width="0.18">Active enhancers</text>
<text x="503.80" y="34.80" font-size="6.2" text-anchor="end" fill="#262626"  stroke="#262626" stroke-width="0.18">633</text>
<text x="411.20" y="122.70" font-size="6.2" text-anchor="start" fill="#262626"  stroke="#262626" stroke-width="0.18">154</text>
<text x="0" y="0" font-size="7.2" font-weight="bold" text-anchor="middle" fill="#333" stroke="#333" stroke-width="0.1" textLength="71.8" lengthAdjust="spacingAndGlyphs" transform="translate(458.3,148)">TET2 KO vs WT (% Δ 5mC)</text>
<text x="0" y="0" font-size="7.2" font-weight="bold" text-anchor="middle" fill="#333" stroke="#333" stroke-width="0.1" textLength="84.5" lengthAdjust="spacingAndGlyphs" transform="translate(387.2,75.3) rotate(-90)">PROSER1 KO vs WT (% Δ 5mC)</text>
<!-- C -->
<path d="M35.90,212.30 L46.72,192.46 A22.6,22.6 0 1 1 35.90,189.70 Z" fill="#c8c8cb" stroke="none" stroke-width="0" stroke-linejoin="round"/>
<path d="M36.94,208.23 L36.94,186.83 A21.4,21.4 0 0 1 46.28,188.98 Z" fill="#4cad67" stroke="#fff" stroke-width="0.6" stroke-linejoin="round"/>
<path d="M36.94,208.23 L46.28,188.98 A21.4,21.4 0 0 1 47.18,189.44 Z" fill="#6b3612" stroke="#fff" stroke-width="0.6" stroke-linejoin="round"/>
<path d="M97.90,211.80 L120.68,210.81 A22.8,22.8 0 1 1 97.90,189.00 Z" fill="#c8c8cb" stroke="none" stroke-width="0" stroke-linejoin="round"/>
<path d="M99.56,210.07 L99.56,187.27 A22.8,22.8 0 0 1 116.29,194.58 Z" fill="#cf0f2a" stroke="#fff" stroke-width="0.7" stroke-linejoin="round"/>
<path d="M99.56,210.07 L116.29,194.58 A22.8,22.8 0 0 1 122.34,209.07 Z" fill="#6b3612" stroke="#fff" stroke-width="0.7" stroke-linejoin="round"/>
<path d="M36.00,300.40 L39.76,277.91 A22.8,22.8 0 1 1 36.00,277.60 Z" fill="#c8c8cb" stroke="none" stroke-width="0" stroke-linejoin="round"/>
<path d="M36.43,295.22 L36.43,274.42 A20.8,20.8 0 0 1 38.42,274.51 Z" fill="#4cad67" stroke="#fff" stroke-width="0.35" stroke-linejoin="round"/>
<path d="M36.43,295.22 L38.42,274.51 A20.8,20.8 0 0 1 39.86,274.70 Z" fill="#6b3612" stroke="#fff" stroke-width="0.35" stroke-linejoin="round"/>
<path d="M97.40,300.50 L119.85,297.14 A22.7,22.7 0 1 1 97.40,277.80 Z" fill="#c8c8cb" stroke="none" stroke-width="0" stroke-linejoin="round"/>
<path d="M98.97,298.68 L98.97,275.98 A22.7,22.7 0 0 1 120.42,291.25 Z" fill="#cf0f2a" stroke="#fff" stroke-width="0.7" stroke-linejoin="round"/>
<path d="M98.97,298.68 L120.42,291.25 A22.7,22.7 0 0 1 121.42,295.33 Z" fill="#6b3612" stroke="#fff" stroke-width="0.7" stroke-linejoin="round"/>
<text x="68.55" y="174.50" font-size="6.4" text-anchor="middle" fill="#262626" textLength="59.5" lengthAdjust="spacingAndGlyphs"  stroke="#262626" stroke-width="0.18">PROSER1 KO vs WT</text>
<text x="36.85" y="184.70" font-size="6.4" text-anchor="middle" fill="#262626" textLength="11.5" lengthAdjust="spacingAndGlyphs"  stroke="#262626" stroke-width="0.18">CGI</text>
<text x="97.90" y="184.60" font-size="6.4" text-anchor="middle" fill="#262626" textLength="27.8" lengthAdjust="spacingAndGlyphs"  stroke="#262626" stroke-width="0.18">Enhancers</text>
<text x="34.30" y="202.10" font-size="6.4" text-anchor="end" fill="#262626" textLength="13.2" lengthAdjust="spacingAndGlyphs"  stroke="#262626" stroke-width="0.18">7.2%</text>
<text x="97.20" y="203.50" font-size="6.4" text-anchor="end" fill="#262626" textLength="17.3" lengthAdjust="spacingAndGlyphs"  stroke="#262626" stroke-width="0.18">13.1%</text>
<text x="36.05" y="242.80" font-size="6.4" text-anchor="middle" fill="#262626" textLength="37.5" lengthAdjust="spacingAndGlyphs"  stroke="#262626" stroke-width="0.18">Total = 15738</text>
<text x="99.75" y="242.70" font-size="6.4" text-anchor="middle" fill="#262626" textLength="38.9" lengthAdjust="spacingAndGlyphs"  stroke="#262626" stroke-width="0.18">Total = 10302</text>
<text x="67.40" y="262.80" font-size="6.4" text-anchor="middle" fill="#262626" textLength="44.4" lengthAdjust="spacingAndGlyphs"  stroke="#262626" stroke-width="0.18">TET2 KO vs WT</text>
<text x="36.85" y="272.10" font-size="6.4" text-anchor="middle" fill="#262626" textLength="11.5" lengthAdjust="spacingAndGlyphs"  stroke="#262626" stroke-width="0.18">CGI</text>
<text x="98.10" y="272.10" font-size="6.4" text-anchor="middle" fill="#262626" textLength="28.2" lengthAdjust="spacingAndGlyphs"  stroke="#262626" stroke-width="0.18">Enhancers</text>
<text x="34.60" y="291.90" font-size="6.4" text-anchor="end" fill="#262626" textLength="13.8" lengthAdjust="spacingAndGlyphs"  stroke="#262626" stroke-width="0.18">1.4%</text>
<text x="95.80" y="293.90" font-size="6.4" text-anchor="end" fill="#262626" textLength="15.9" lengthAdjust="spacingAndGlyphs"  stroke="#262626" stroke-width="0.18">19.7%</text>
<text x="37.25" y="330.60" font-size="6.4" text-anchor="middle" fill="#262626" textLength="37.9" lengthAdjust="spacingAndGlyphs"  stroke="#262626" stroke-width="0.18">Total = 15738</text>
<text x="100.50" y="330.60" font-size="6.4" text-anchor="middle" fill="#262626" textLength="38.4" lengthAdjust="spacingAndGlyphs"  stroke="#262626" stroke-width="0.18">Total = 10302</text>
<rect x="157.8" y="168.1" width="3.9" height="3.4" fill="#4cad67"/>
<rect x="161.7" y="168.1" width="3.9" height="3.4" fill="#cf0f2a"/>
<rect x="157.8" y="176.0" width="7.8" height="3.0" fill="#6b3612"/>
<rect x="157.8" y="183.0" width="7.8" height="3.0" fill="#d6d6dc"/>
<text x="168.50" y="172.50" font-size="6.4" text-anchor="start" fill="#262626" textLength="29.4" lengthAdjust="spacingAndGlyphs"  stroke="#262626" stroke-width="0.18">hyper 5mC</text>
<text x="168.50" y="179.50" font-size="6.4" text-anchor="start" fill="#262626" textLength="28.2" lengthAdjust="spacingAndGlyphs"  stroke="#262626" stroke-width="0.18">hypo 5mC</text>
<text x="168.70" y="186.80" font-size="6.4" text-anchor="start" fill="#262626" textLength="30.2" lengthAdjust="spacingAndGlyphs"  stroke="#262626" stroke-width="0.18">Unchanged</text>
<text x="175.50" y="204.70" font-size="6.4" text-anchor="middle" fill="#262626" textLength="89.4" lengthAdjust="spacingAndGlyphs"  stroke="#262626" stroke-width="0.18">PROSER1 KO vs WT enhancers</text>
<line x1="127.90" y1="207.90" x2="222.90" y2="207.90" stroke="#3a3a3a" stroke-width="0.8" />
<line x1="161.00" y1="208.10" x2="161.00" y2="212.20" stroke="#3a3a3a" stroke-width="0.7" />
<path d="M159.90,211.4 L162.10,211.4 L161.00,213.4 Z" fill="#3a3a3a"/>
<line x1="222.80" y1="208.10" x2="222.80" y2="212.20" stroke="#3a3a3a" stroke-width="0.7" />
<path d="M221.70,211.4 L223.90,211.4 L222.80,213.4 Z" fill="#3a3a3a"/>
<text x="162.40" y="220.90" font-size="6.4" text-anchor="middle" fill="#262626" textLength="29.6" lengthAdjust="spacingAndGlyphs"  stroke="#262626" stroke-width="0.18">hyper 5mC</text>
<text x="224.05" y="228.10" font-size="6.4" text-anchor="middle" fill="#262626" textLength="28.1" lengthAdjust="spacingAndGlyphs"  stroke="#262626" stroke-width="0.18">hypo 5mC</text>
<line x1="128.80" y1="305.00" x2="223.20" y2="305.00" stroke="#3a3a3a" stroke-width="0.8" />
<line x1="161.00" y1="305.30" x2="161.00" y2="300.80" stroke="#3a3a3a" stroke-width="0.7" />
<path d="M159.90,301.6 L162.10,301.6 L161.00,299.6 Z" fill="#3a3a3a"/>
<line x1="223.20" y1="305.30" x2="223.20" y2="300.80" stroke="#3a3a3a" stroke-width="0.7" />
<path d="M222.10,301.6 L224.30,301.6 L223.20,299.6 Z" fill="#3a3a3a"/>
<text x="173.75" y="313.50" font-size="6.4" text-anchor="middle" fill="#262626" textLength="73.7" lengthAdjust="spacingAndGlyphs"  stroke="#262626" stroke-width="0.18">TET2 KO vs WT enhancers</text>
<text x="162.05" y="294.70" font-size="6.4" text-anchor="middle" fill="#262626" textLength="30.3" lengthAdjust="spacingAndGlyphs"  stroke="#262626" stroke-width="0.18">hyper 5mC</text>
<text x="222.85" y="285.30" font-size="6.4" text-anchor="middle" fill="#262626" textLength="28.1" lengthAdjust="spacingAndGlyphs"  stroke="#262626" stroke-width="0.18">hypo 5mC</text>
<circle cx="161.5" cy="264.4" r="22.4" fill="#f5d3ca" stroke="#eec3b8" stroke-width="0.6"/>
<circle cx="161.0" cy="247.1" r="19.2" fill="#f2c9be" stroke="#ecbcb0" stroke-width="0.6"/>
<clipPath id="cl1"><circle cx="161.5" cy="264.4" r="22.4"/></clipPath>
<circle cx="161.0" cy="247.1" r="19.2" fill="#e79a8e" clip-path="url(#cl1)"/>
<text x="161.30" y="238.40" font-size="6.4" text-anchor="middle" fill="#262626" textLength="9.9" lengthAdjust="spacingAndGlyphs"  stroke="#262626" stroke-width="0.18">717</text>
<text x="161.10" y="257.10" font-size="6.4" text-anchor="middle" fill="#262626" textLength="9.9" lengthAdjust="spacingAndGlyphs"  stroke="#262626" stroke-width="0.18">633</text>
<text x="161.90" y="276.90" font-size="6.4" text-anchor="middle" fill="#262626" textLength="14.7" lengthAdjust="spacingAndGlyphs"  stroke="#262626" stroke-width="0.18">1392</text>
<circle cx="170.48" cy="249.60" r="0.65" fill="#222"/>
<circle cx="173.03" cy="249.60" r="0.65" fill="#222"/>
<circle cx="175.58" cy="249.60" r="0.65" fill="#222"/>
<circle cx="178.13" cy="249.60" r="0.65" fill="#222"/>
<text x="167.80" y="258.50" font-size="6.4" text-anchor="start" fill="#262626" textLength="27.4" lengthAdjust="spacingAndGlyphs"  stroke="#262626" stroke-width="0.18">RR = 3.61</text>
<circle cx="219.1" cy="247.3" r="14.7" fill="#dcdce1" stroke="#d0d0d6" stroke-width="0.5"/>
<circle cx="220.2" cy="265.5" r="11.8" fill="#dcdce1" stroke="#d0d0d6" stroke-width="0.5"/>
<clipPath id="cl2"><circle cx="219.1" cy="247.3" r="14.7"/></clipPath>
<circle cx="220.2" cy="265.5" r="11.8" fill="#c9c9d0" clip-path="url(#cl2)"/>
<text x="221.60" y="245.90" font-size="6.4" text-anchor="middle" fill="#262626" textLength="11.2" lengthAdjust="spacingAndGlyphs"  stroke="#262626" stroke-width="0.18">928</text>
<text x="221.30" y="261.60" font-size="6.4" text-anchor="middle" fill="#262626" textLength="10.0" lengthAdjust="spacingAndGlyphs"  stroke="#262626" stroke-width="0.18">154</text>
<text x="221.95" y="273.80" font-size="6.4" text-anchor="middle" fill="#262626" textLength="10.3" lengthAdjust="spacingAndGlyphs"  stroke="#262626" stroke-width="0.18">179</text>
<circle cx="230.93" cy="256.50" r="0.65" fill="#222"/>
<circle cx="233.48" cy="256.50" r="0.65" fill="#222"/>
<circle cx="236.03" cy="256.50" r="0.65" fill="#222"/>
<circle cx="238.58" cy="256.50" r="0.65" fill="#222"/>
<text x="228.30" y="263.90" font-size="6.4" text-anchor="start" fill="#262626" textLength="28.8" lengthAdjust="spacingAndGlyphs"  stroke="#262626" stroke-width="0.18">RR = 4.97</text>
<!-- E -->
<line x1="304.30" y1="210.70" x2="304.30" y2="291.50" stroke="#161616" stroke-width="1.15" />
<line x1="301.70" y1="291.50" x2="304.30" y2="291.50" stroke="#161616" stroke-width="1.1" />
<line x1="301.70" y1="276.72" x2="304.30" y2="276.72" stroke="#161616" stroke-width="1.1" />
<line x1="301.70" y1="261.94" x2="304.30" y2="261.94" stroke="#161616" stroke-width="1.1" />
<line x1="301.70" y1="247.16" x2="304.30" y2="247.16" stroke="#161616" stroke-width="1.1" />
<line x1="301.70" y1="232.38" x2="304.30" y2="232.38" stroke="#161616" stroke-width="1.1" />
<line x1="301.70" y1="217.60" x2="304.30" y2="217.60" stroke="#161616" stroke-width="1.1" />
<text x="297.90" y="293.50" font-size="6.2" text-anchor="end" fill="#262626"  stroke="#262626" stroke-width="0.18">0</text>
<text x="297.90" y="278.72" font-size="6.2" text-anchor="end" fill="#262626"  stroke="#262626" stroke-width="0.18">20</text>
<text x="297.90" y="263.94" font-size="6.2" text-anchor="end" fill="#262626"  stroke="#262626" stroke-width="0.18">40</text>
<text x="297.90" y="249.16" font-size="6.2" text-anchor="end" fill="#262626"  stroke="#262626" stroke-width="0.18">60</text>
<text x="297.90" y="234.38" font-size="6.2" text-anchor="end" fill="#262626"  stroke="#262626" stroke-width="0.18">80</text>
<text x="297.90" y="219.60" font-size="6.2" text-anchor="end" fill="#262626"  stroke="#262626" stroke-width="0.18">100</text>
<line x1="301.80" y1="291.50" x2="344.30" y2="291.50" stroke="#161616" stroke-width="1.2" />
<line x1="312.90" y1="291.50" x2="312.90" y2="293.70" stroke="#161616" stroke-width="0.9" />
<line x1="323.90" y1="291.50" x2="323.90" y2="293.70" stroke="#161616" stroke-width="0.9" />
<line x1="335.20" y1="291.50" x2="335.20" y2="293.70" stroke="#161616" stroke-width="0.9" />
<text x="0" y="0" font-size="7.6" text-anchor="middle" fill="#262626" stroke="#262626" stroke-width="0.15" font-weight="bold" textLength="40.0" lengthAdjust="spacingAndGlyphs" transform="translate(281.30,249.50) rotate(-90)">% 5mC + 5hmC</text>
<line x1="312.90" y1="226.60" x2="312.90" y2="246.50" stroke="#a8a8a8" stroke-width="1.2" />
<line x1="312.90" y1="270.50" x2="312.90" y2="291.50" stroke="#a8a8a8" stroke-width="1.2" />
<line x1="310.80" y1="226.60" x2="315.00" y2="226.60" stroke="#8a8a8a" stroke-width="1.0" />
<rect x="308.95" y="246.50" width="7.90" height="24.00" fill="#c9c9cb" stroke="#b6b6b8" stroke-width="0.8"/>
<line x1="308.95" y1="259.10" x2="316.85" y2="259.10" stroke="#707072" stroke-width="1.0" />
<line x1="323.90" y1="218.40" x2="323.90" y2="230.90" stroke="#a8a8a8" stroke-width="1.2" />
<line x1="323.90" y1="254.40" x2="323.90" y2="281.80" stroke="#a8a8a8" stroke-width="1.2" />
<line x1="321.80" y1="218.40" x2="326.00" y2="218.40" stroke="#8a8a8a" stroke-width="1.0" />
<line x1="321.80" y1="281.80" x2="326.00" y2="281.80" stroke="#8a8a8a" stroke-width="1.0" />
<rect x="319.95" y="230.90" width="7.90" height="23.50" fill="#8f7fc5" stroke="#7867b2" stroke-width="0.8"/>
<line x1="319.95" y1="242.30" x2="327.85" y2="242.30" stroke="#3f2f75" stroke-width="1.0" />
<line x1="335.20" y1="218.40" x2="335.20" y2="232.90" stroke="#a8a8a8" stroke-width="1.2" />
<line x1="335.20" y1="255.60" x2="335.20" y2="282.50" stroke="#a8a8a8" stroke-width="1.2" />
<line x1="333.10" y1="218.40" x2="337.30" y2="218.40" stroke="#8a8a8a" stroke-width="1.0" />
<line x1="333.10" y1="282.50" x2="337.30" y2="282.50" stroke="#8a8a8a" stroke-width="1.0" />
<rect x="331.25" y="232.90" width="7.90" height="22.70" fill="#2eaae2" stroke="#1b90c9" stroke-width="0.8"/>
<line x1="331.25" y1="243.60" x2="339.15" y2="243.60" stroke="#14507a" stroke-width="1.0" />
<circle cx="321.80" cy="215.40" r="0.75" fill="#222"/>
<circle cx="324.00" cy="215.40" r="0.75" fill="#222"/>
<circle cx="326.20" cy="215.40" r="0.75" fill="#222"/>
<circle cx="333.10" cy="215.40" r="0.75" fill="#222"/>
<circle cx="335.30" cy="215.40" r="0.75" fill="#222"/>
<circle cx="337.50" cy="215.40" r="0.75" fill="#222"/>
<text x="324.30" y="174.70" font-size="8.2" text-anchor="middle" fill="#262626"  stroke="#262626" stroke-width="0.18">Enhancers</text>
<text x="324.30" y="184.65" font-size="8.2" text-anchor="middle" fill="#262626"  stroke="#262626" stroke-width="0.18">hyper 5mC in</text>
<text x="324.30" y="194.60" font-size="8.2" text-anchor="middle" fill="#262626"  stroke="#262626" stroke-width="0.18">both</text>
<text x="324.30" y="204.55" font-size="8.2" text-anchor="middle" fill="#262626"  stroke="#262626" stroke-width="0.18">(<tspan font-style="italic">n</tspan> = 633)</text>
<text x="0" y="0" font-size="6.1" text-anchor="end" fill="#262626" stroke="#262626" stroke-width="0.18" transform="translate(314.90,300.20) rotate(-45)">WT</text>
<text x="0" y="0" font-size="6.1" text-anchor="end" fill="#262626" stroke="#262626" stroke-width="0.18" transform="translate(325.90,300.20) rotate(-45)">PROSER1 KO</text>
<text x="0" y="0" font-size="6.1" text-anchor="end" fill="#262626" stroke="#262626" stroke-width="0.18" transform="translate(337.20,300.20) rotate(-45)">TET2 KO</text>
<line x1="386.00" y1="210.70" x2="386.00" y2="291.50" stroke="#161616" stroke-width="1.15" />
<line x1="383.40" y1="291.50" x2="386.00" y2="291.50" stroke="#161616" stroke-width="1.1" />
<line x1="383.40" y1="276.72" x2="386.00" y2="276.72" stroke="#161616" stroke-width="1.1" />
<line x1="383.40" y1="261.94" x2="386.00" y2="261.94" stroke="#161616" stroke-width="1.1" />
<line x1="383.40" y1="247.16" x2="386.00" y2="247.16" stroke="#161616" stroke-width="1.1" />
<line x1="383.40" y1="232.38" x2="386.00" y2="232.38" stroke="#161616" stroke-width="1.1" />
<line x1="383.40" y1="217.60" x2="386.00" y2="217.60" stroke="#161616" stroke-width="1.1" />
<text x="379.60" y="293.50" font-size="6.2" text-anchor="end" fill="#262626"  stroke="#262626" stroke-width="0.18">0</text>
<text x="379.60" y="278.72" font-size="6.2" text-anchor="end" fill="#262626"  stroke="#262626" stroke-width="0.18">20</text>
<text x="379.60" y="263.94" font-size="6.2" text-anchor="end" fill="#262626"  stroke="#262626" stroke-width="0.18">40</text>
<text x="379.60" y="249.16" font-size="6.2" text-anchor="end" fill="#262626"  stroke="#262626" stroke-width="0.18">60</text>
<text x="379.60" y="234.38" font-size="6.2" text-anchor="end" fill="#262626"  stroke="#262626" stroke-width="0.18">80</text>
<text x="379.60" y="219.60" font-size="6.2" text-anchor="end" fill="#262626"  stroke="#262626" stroke-width="0.18">100</text>
<line x1="383.50" y1="291.50" x2="426.00" y2="291.50" stroke="#161616" stroke-width="1.2" />
<line x1="394.80" y1="291.50" x2="394.80" y2="293.70" stroke="#161616" stroke-width="0.9" />
<line x1="405.90" y1="291.50" x2="405.90" y2="293.70" stroke="#161616" stroke-width="0.9" />
<line x1="417.20" y1="291.50" x2="417.20" y2="293.70" stroke="#161616" stroke-width="0.9" />
<text x="0" y="0" font-size="7.6" text-anchor="middle" fill="#262626" stroke="#262626" stroke-width="0.15" font-weight="bold" textLength="40.0" lengthAdjust="spacingAndGlyphs" transform="translate(363.00,249.50) rotate(-90)">% 5mC + 5hmC</text>
<line x1="394.80" y1="225.30" x2="394.80" y2="243.20" stroke="#a8a8a8" stroke-width="1.2" />
<line x1="394.80" y1="270.90" x2="394.80" y2="291.50" stroke="#a8a8a8" stroke-width="1.2" />
<line x1="392.70" y1="225.30" x2="396.90" y2="225.30" stroke="#8a8a8a" stroke-width="1.0" />
<rect x="390.85" y="243.20" width="7.90" height="27.70" fill="#c9c9cb" stroke="#b6b6b8" stroke-width="0.8"/>
<line x1="390.85" y1="256.90" x2="398.75" y2="256.90" stroke="#707072" stroke-width="1.0" />
<line x1="405.90" y1="218.50" x2="405.90" y2="231.00" stroke="#a8a8a8" stroke-width="1.2" />
<line x1="405.90" y1="257.70" x2="405.90" y2="282.10" stroke="#a8a8a8" stroke-width="1.2" />
<line x1="403.80" y1="218.50" x2="408.00" y2="218.50" stroke="#8a8a8a" stroke-width="1.0" />
<line x1="403.80" y1="282.10" x2="408.00" y2="282.10" stroke="#8a8a8a" stroke-width="1.0" />
<rect x="401.95" y="231.00" width="7.90" height="26.70" fill="#8f7fc5" stroke="#7867b2" stroke-width="0.8"/>
<line x1="401.95" y1="243.20" x2="409.85" y2="243.20" stroke="#3f2f75" stroke-width="1.0" />
<line x1="417.20" y1="219.90" x2="417.20" y2="241.20" stroke="#a8a8a8" stroke-width="1.2" />
<line x1="417.20" y1="268.90" x2="417.20" y2="291.50" stroke="#a8a8a8" stroke-width="1.2" />
<line x1="415.10" y1="219.90" x2="419.30" y2="219.90" stroke="#8a8a8a" stroke-width="1.0" />
<rect x="413.25" y="241.20" width="7.90" height="27.70" fill="#2eaae2" stroke="#1b90c9" stroke-width="0.8"/>
<line x1="413.25" y1="255.00" x2="421.15" y2="255.00" stroke="#14507a" stroke-width="1.0" />
<circle cx="404.60" cy="215.50" r="0.75" fill="#222"/>
<circle cx="407.40" cy="215.50" r="0.75" fill="#222"/>
<text x="417.30" y="218.30" font-size="6.0" text-anchor="middle" fill="#262626"  stroke="#262626" stroke-width="0.18">ns</text>
<text x="406.40" y="174.70" font-size="8.2" text-anchor="middle" fill="#262626"  stroke="#262626" stroke-width="0.18">Enhancers</text>
<text x="406.40" y="184.65" font-size="8.2" text-anchor="middle" fill="#262626"  stroke="#262626" stroke-width="0.18">hyper 5mC in</text>
<text x="406.40" y="194.60" font-size="8.2" text-anchor="middle" fill="#262626"  stroke="#262626" stroke-width="0.18">PROSER1 KO only</text>
<text x="406.40" y="204.55" font-size="8.2" text-anchor="middle" fill="#262626"  stroke="#262626" stroke-width="0.18">(<tspan font-style="italic">n</tspan> = 717)</text>
<text x="0" y="0" font-size="6.1" text-anchor="end" fill="#262626" stroke="#262626" stroke-width="0.18" transform="translate(396.80,300.20) rotate(-45)">WT</text>
<text x="0" y="0" font-size="6.1" text-anchor="end" fill="#262626" stroke="#262626" stroke-width="0.18" transform="translate(407.90,300.20) rotate(-45)">PROSER1 KO</text>
<text x="0" y="0" font-size="6.1" text-anchor="end" fill="#262626" stroke="#262626" stroke-width="0.18" transform="translate(419.20,300.20) rotate(-45)">TET2 KO</text>
<line x1="468.30" y1="210.70" x2="468.30" y2="291.50" stroke="#161616" stroke-width="1.15" />
<line x1="465.70" y1="291.50" x2="468.30" y2="291.50" stroke="#161616" stroke-width="1.1" />
<line x1="465.70" y1="276.72" x2="468.30" y2="276.72" stroke="#161616" stroke-width="1.1" />
<line x1="465.70" y1="261.94" x2="468.30" y2="261.94" stroke="#161616" stroke-width="1.1" />
<line x1="465.70" y1="247.16" x2="468.30" y2="247.16" stroke="#161616" stroke-width="1.1" />
<line x1="465.70" y1="232.38" x2="468.30" y2="232.38" stroke="#161616" stroke-width="1.1" />
<line x1="465.70" y1="217.60" x2="468.30" y2="217.60" stroke="#161616" stroke-width="1.1" />
<text x="461.90" y="293.50" font-size="6.2" text-anchor="end" fill="#262626"  stroke="#262626" stroke-width="0.18">0</text>
<text x="461.90" y="278.72" font-size="6.2" text-anchor="end" fill="#262626"  stroke="#262626" stroke-width="0.18">20</text>
<text x="461.90" y="263.94" font-size="6.2" text-anchor="end" fill="#262626"  stroke="#262626" stroke-width="0.18">40</text>
<text x="461.90" y="249.16" font-size="6.2" text-anchor="end" fill="#262626"  stroke="#262626" stroke-width="0.18">60</text>
<text x="461.90" y="234.38" font-size="6.2" text-anchor="end" fill="#262626"  stroke="#262626" stroke-width="0.18">80</text>
<text x="461.90" y="219.60" font-size="6.2" text-anchor="end" fill="#262626"  stroke="#262626" stroke-width="0.18">100</text>
<line x1="465.80" y1="291.50" x2="508.30" y2="291.50" stroke="#161616" stroke-width="1.2" />
<line x1="477.00" y1="291.50" x2="477.00" y2="293.70" stroke="#161616" stroke-width="0.9" />
<line x1="487.80" y1="291.50" x2="487.80" y2="293.70" stroke="#161616" stroke-width="0.9" />
<line x1="499.00" y1="291.50" x2="499.00" y2="293.70" stroke="#161616" stroke-width="0.9" />
<text x="0" y="0" font-size="7.6" text-anchor="middle" fill="#262626" stroke="#262626" stroke-width="0.15" font-weight="bold" textLength="40.0" lengthAdjust="spacingAndGlyphs" transform="translate(445.30,249.50) rotate(-90)">% 5mC + 5hmC</text>
<line x1="477.00" y1="225.40" x2="477.00" y2="246.00" stroke="#a8a8a8" stroke-width="1.2" />
<line x1="477.00" y1="271.70" x2="477.00" y2="291.50" stroke="#a8a8a8" stroke-width="1.2" />
<line x1="474.90" y1="225.40" x2="479.10" y2="225.40" stroke="#8a8a8a" stroke-width="1.0" />
<rect x="473.05" y="246.00" width="7.90" height="25.70" fill="#c9c9cb" stroke="#b6b6b8" stroke-width="0.8"/>
<line x1="473.05" y1="258.20" x2="480.95" y2="258.20" stroke="#707072" stroke-width="1.0" />
<line x1="487.80" y1="219.20" x2="487.80" y2="247.00" stroke="#a8a8a8" stroke-width="1.2" />
<line x1="487.80" y1="273.30" x2="487.80" y2="291.50" stroke="#a8a8a8" stroke-width="1.2" />
<line x1="485.70" y1="219.20" x2="489.90" y2="219.20" stroke="#8a8a8a" stroke-width="1.0" />
<rect x="483.85" y="247.00" width="7.90" height="26.30" fill="#8f7fc5" stroke="#7867b2" stroke-width="0.8"/>
<line x1="483.85" y1="260.00" x2="491.75" y2="260.00" stroke="#3f2f75" stroke-width="1.0" />
<line x1="499.00" y1="217.70" x2="499.00" y2="232.80" stroke="#a8a8a8" stroke-width="1.2" />
<line x1="499.00" y1="258.80" x2="499.00" y2="284.20" stroke="#a8a8a8" stroke-width="1.2" />
<line x1="496.90" y1="217.70" x2="501.10" y2="217.70" stroke="#8a8a8a" stroke-width="1.0" />
<line x1="496.90" y1="284.20" x2="501.10" y2="284.20" stroke="#8a8a8a" stroke-width="1.0" />
<rect x="495.05" y="232.80" width="7.90" height="26.00" fill="#2eaae2" stroke="#1b90c9" stroke-width="0.8"/>
<line x1="495.05" y1="245.40" x2="502.95" y2="245.40" stroke="#14507a" stroke-width="1.0" />
<text x="487.90" y="217.60" font-size="6.0" text-anchor="middle" fill="#262626"  stroke="#262626" stroke-width="0.18">ns</text>
<circle cx="497.70" cy="214.70" r="0.75" fill="#222"/>
<circle cx="500.50" cy="214.70" r="0.75" fill="#222"/>
<text x="488.20" y="174.70" font-size="8.2" text-anchor="middle" fill="#262626"  stroke="#262626" stroke-width="0.18">Enhancers</text>
<text x="488.20" y="184.65" font-size="8.2" text-anchor="middle" fill="#262626"  stroke="#262626" stroke-width="0.18">hyper 5mC in</text>
<text x="488.20" y="194.60" font-size="8.2" text-anchor="middle" fill="#262626"  stroke="#262626" stroke-width="0.18">TET2 KO only</text>
<text x="488.20" y="204.55" font-size="8.2" text-anchor="middle" fill="#262626"  stroke="#262626" stroke-width="0.18">(<tspan font-style="italic">n</tspan> = 1392)</text>
<text x="0" y="0" font-size="6.1" text-anchor="end" fill="#262626" stroke="#262626" stroke-width="0.18" transform="translate(479.00,300.20) rotate(-45)">WT</text>
<text x="0" y="0" font-size="6.1" text-anchor="end" fill="#262626" stroke="#262626" stroke-width="0.18" transform="translate(489.80,300.20) rotate(-45)">PROSER1 KO</text>
<text x="0" y="0" font-size="6.1" text-anchor="end" fill="#262626" stroke="#262626" stroke-width="0.18" transform="translate(501.00,300.20) rotate(-45)">TET2 KO</text>
</svg>
</body></html>
